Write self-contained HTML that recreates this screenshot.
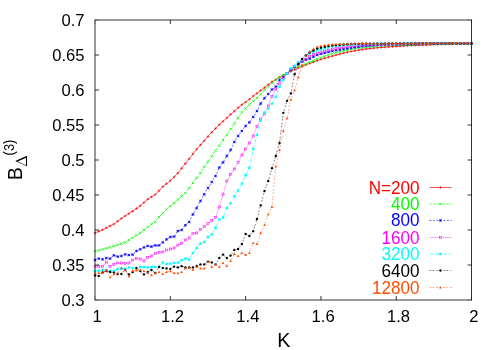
<!DOCTYPE html>
<html><head><meta charset="utf-8"><title>plot</title>
<style>
html,body{margin:0;padding:0;background:#fff;}
svg{display:block;will-change:transform;font-family:"Liberation Sans",sans-serif;}
.t{font-size:17.4px;}
</style></head>
<body>
<svg width="500" height="350" viewBox="0 0 500 350">
<rect width="500" height="350" fill="#fff"/>
<polyline points="95.00,233.00 98.77,231.40 102.53,229.80 106.30,227.92 110.06,226.00 113.83,224.09 117.60,221.30 121.36,218.48 125.13,216.01 128.89,213.61 132.66,211.22 136.43,208.55 140.19,205.83 143.96,202.54 147.72,199.24 151.49,196.82 155.26,194.47 159.02,190.76 162.79,186.73 166.55,183.71 170.32,180.68 174.09,176.91 177.85,173.15 181.62,168.35 185.38,163.52 189.15,158.81 192.92,153.97 196.68,149.23 200.45,145.00 204.21,140.76 207.98,136.52 211.75,132.29 215.51,128.49 219.28,124.75 223.04,121.32 226.81,117.90 230.58,114.48 234.34,111.09 238.11,107.70 241.87,104.71 245.64,102.12 249.41,99.27 253.17,96.12 256.94,93.30 260.70,90.47 264.47,87.64 268.24,84.72 272.00,81.80 275.77,79.60 279.53,77.41 283.30,75.21 287.07,73.27 290.83,71.38 294.60,69.50 298.36,67.85 302.13,66.35 305.90,64.84 309.66,63.39 313.43,62.01 317.19,60.63 320.96,59.32 324.73,58.23 328.49,57.14 332.26,56.09 336.02,55.08 339.79,54.07 343.56,53.06 347.32,52.16 351.09,51.48 354.85,50.80 358.62,50.11 362.39,49.45 366.15,49.01 369.92,48.56 373.68,48.11 377.45,47.67 381.22,47.38 384.98,47.12 388.75,46.86 392.51,46.60 396.28,46.36 400.05,46.12 403.81,45.89 407.58,45.65 411.34,45.45 415.11,45.30 418.88,45.14 422.64,44.99 426.41,44.84 430.17,44.69 433.94,44.54 437.71,44.39 441.47,44.27 445.24,44.19 449.00,44.10 452.77,44.02 456.54,43.94 460.30,43.86 464.07,43.77 467.83,43.69 471.60,43.61" fill="none" stroke="#ff0000" stroke-width="0.65"/>
<g><path d="M93.75 233.00H96.25M95.00 231.75V234.25" stroke="#ff0000" stroke-width="0.7" fill="none"/><path d="M97.52 231.40H100.02M98.77 230.15V232.65" stroke="#ff0000" stroke-width="0.7" fill="none"/><path d="M101.28 229.80H103.78M102.53 228.55V231.05" stroke="#ff0000" stroke-width="0.7" fill="none"/><path d="M105.05 227.92H107.55M106.30 226.67V229.17" stroke="#ff0000" stroke-width="0.7" fill="none"/><path d="M108.81 226.00H111.31M110.06 224.75V227.25" stroke="#ff0000" stroke-width="0.7" fill="none"/><path d="M112.58 224.09H115.08M113.83 222.84V225.34" stroke="#ff0000" stroke-width="0.7" fill="none"/><path d="M116.35 221.30H118.85M117.60 220.05V222.55" stroke="#ff0000" stroke-width="0.7" fill="none"/><path d="M120.11 218.48H122.61M121.36 217.23V219.73" stroke="#ff0000" stroke-width="0.7" fill="none"/><path d="M123.88 216.01H126.38M125.13 214.76V217.26" stroke="#ff0000" stroke-width="0.7" fill="none"/><path d="M127.64 213.61H130.14M128.89 212.36V214.86" stroke="#ff0000" stroke-width="0.7" fill="none"/><path d="M131.41 211.22H133.91M132.66 209.97V212.47" stroke="#ff0000" stroke-width="0.7" fill="none"/><path d="M135.18 208.55H137.68M136.43 207.30V209.80" stroke="#ff0000" stroke-width="0.7" fill="none"/><path d="M138.94 205.83H141.44M140.19 204.58V207.08" stroke="#ff0000" stroke-width="0.7" fill="none"/><path d="M142.71 202.54H145.21M143.96 201.29V203.79" stroke="#ff0000" stroke-width="0.7" fill="none"/><path d="M146.47 199.24H148.97M147.72 197.99V200.49" stroke="#ff0000" stroke-width="0.7" fill="none"/><path d="M150.24 196.82H152.74M151.49 195.57V198.07" stroke="#ff0000" stroke-width="0.7" fill="none"/><path d="M154.01 194.47H156.51M155.26 193.22V195.72" stroke="#ff0000" stroke-width="0.7" fill="none"/><path d="M157.77 190.76H160.27M159.02 189.51V192.01" stroke="#ff0000" stroke-width="0.7" fill="none"/><path d="M161.54 186.73H164.04M162.79 185.48V187.98" stroke="#ff0000" stroke-width="0.7" fill="none"/><path d="M165.30 183.71H167.80M166.55 182.46V184.96" stroke="#ff0000" stroke-width="0.7" fill="none"/><path d="M169.07 180.68H171.57M170.32 179.43V181.93" stroke="#ff0000" stroke-width="0.7" fill="none"/><path d="M172.84 176.91H175.34M174.09 175.66V178.16" stroke="#ff0000" stroke-width="0.7" fill="none"/><path d="M176.60 173.15H179.10M177.85 171.90V174.40" stroke="#ff0000" stroke-width="0.7" fill="none"/><path d="M180.37 168.35H182.87M181.62 167.10V169.60" stroke="#ff0000" stroke-width="0.7" fill="none"/><path d="M184.13 163.52H186.63M185.38 162.27V164.77" stroke="#ff0000" stroke-width="0.7" fill="none"/><path d="M187.90 158.81H190.40M189.15 157.56V160.06" stroke="#ff0000" stroke-width="0.7" fill="none"/><path d="M191.67 153.97H194.17M192.92 152.72V155.22" stroke="#ff0000" stroke-width="0.7" fill="none"/><path d="M195.43 149.23H197.93M196.68 147.98V150.48" stroke="#ff0000" stroke-width="0.7" fill="none"/><path d="M199.20 145.00H201.70M200.45 143.75V146.25" stroke="#ff0000" stroke-width="0.7" fill="none"/><path d="M202.96 140.76H205.46M204.21 139.51V142.01" stroke="#ff0000" stroke-width="0.7" fill="none"/><path d="M206.73 136.52H209.23M207.98 135.27V137.77" stroke="#ff0000" stroke-width="0.7" fill="none"/><path d="M210.50 132.29H213.00M211.75 131.04V133.54" stroke="#ff0000" stroke-width="0.7" fill="none"/><path d="M214.26 128.49H216.76M215.51 127.24V129.74" stroke="#ff0000" stroke-width="0.7" fill="none"/><path d="M218.03 124.75H220.53M219.28 123.50V126.00" stroke="#ff0000" stroke-width="0.7" fill="none"/><path d="M221.79 121.32H224.29M223.04 120.07V122.57" stroke="#ff0000" stroke-width="0.7" fill="none"/><path d="M225.56 117.90H228.06M226.81 116.65V119.15" stroke="#ff0000" stroke-width="0.7" fill="none"/><path d="M229.33 114.48H231.83M230.58 113.23V115.73" stroke="#ff0000" stroke-width="0.7" fill="none"/><path d="M233.09 111.09H235.59M234.34 109.84V112.34" stroke="#ff0000" stroke-width="0.7" fill="none"/><path d="M236.86 107.70H239.36M238.11 106.45V108.95" stroke="#ff0000" stroke-width="0.7" fill="none"/><path d="M240.62 104.71H243.12M241.87 103.46V105.96" stroke="#ff0000" stroke-width="0.7" fill="none"/><path d="M244.39 102.12H246.89M245.64 100.87V103.37" stroke="#ff0000" stroke-width="0.7" fill="none"/><path d="M248.16 99.27H250.66M249.41 98.02V100.52" stroke="#ff0000" stroke-width="0.7" fill="none"/><path d="M251.92 96.12H254.42M253.17 94.87V97.37" stroke="#ff0000" stroke-width="0.7" fill="none"/><path d="M255.69 93.30H258.19M256.94 92.05V94.55" stroke="#ff0000" stroke-width="0.7" fill="none"/><path d="M259.45 90.47H261.95M260.70 89.22V91.72" stroke="#ff0000" stroke-width="0.7" fill="none"/><path d="M263.22 87.64H265.72M264.47 86.39V88.89" stroke="#ff0000" stroke-width="0.7" fill="none"/><path d="M266.99 84.72H269.49M268.24 83.47V85.97" stroke="#ff0000" stroke-width="0.7" fill="none"/><path d="M270.75 81.80H273.25M272.00 80.55V83.05" stroke="#ff0000" stroke-width="0.7" fill="none"/><path d="M274.52 79.60H277.02M275.77 78.35V80.85" stroke="#ff0000" stroke-width="0.7" fill="none"/><path d="M278.28 77.41H280.78M279.53 76.16V78.66" stroke="#ff0000" stroke-width="0.7" fill="none"/><path d="M282.05 75.21H284.55M283.30 73.96V76.46" stroke="#ff0000" stroke-width="0.7" fill="none"/><path d="M285.82 73.27H288.32M287.07 72.02V74.52" stroke="#ff0000" stroke-width="0.7" fill="none"/><path d="M289.58 71.38H292.08M290.83 70.13V72.63" stroke="#ff0000" stroke-width="0.7" fill="none"/><path d="M293.35 69.50H295.85M294.60 68.25V70.75" stroke="#ff0000" stroke-width="0.7" fill="none"/><path d="M297.11 67.85H299.61M298.36 66.60V69.10" stroke="#ff0000" stroke-width="0.7" fill="none"/><path d="M300.88 66.35H303.38M302.13 65.10V67.60" stroke="#ff0000" stroke-width="0.7" fill="none"/><path d="M304.65 64.84H307.15M305.90 63.59V66.09" stroke="#ff0000" stroke-width="0.7" fill="none"/><path d="M308.41 63.39H310.91M309.66 62.14V64.64" stroke="#ff0000" stroke-width="0.7" fill="none"/><path d="M312.18 62.01H314.68M313.43 60.76V63.26" stroke="#ff0000" stroke-width="0.7" fill="none"/><path d="M315.94 60.63H318.44M317.19 59.38V61.88" stroke="#ff0000" stroke-width="0.7" fill="none"/><path d="M319.71 59.32H322.21M320.96 58.07V60.57" stroke="#ff0000" stroke-width="0.7" fill="none"/><path d="M323.48 58.23H325.98M324.73 56.98V59.48" stroke="#ff0000" stroke-width="0.7" fill="none"/><path d="M327.24 57.14H329.74M328.49 55.89V58.39" stroke="#ff0000" stroke-width="0.7" fill="none"/><path d="M331.01 56.09H333.51M332.26 54.84V57.34" stroke="#ff0000" stroke-width="0.7" fill="none"/><path d="M334.77 55.08H337.27M336.02 53.83V56.33" stroke="#ff0000" stroke-width="0.7" fill="none"/><path d="M338.54 54.07H341.04M339.79 52.82V55.32" stroke="#ff0000" stroke-width="0.7" fill="none"/><path d="M342.31 53.06H344.81M343.56 51.81V54.31" stroke="#ff0000" stroke-width="0.7" fill="none"/><path d="M346.07 52.16H348.57M347.32 50.91V53.41" stroke="#ff0000" stroke-width="0.7" fill="none"/><path d="M349.84 51.48H352.34M351.09 50.23V52.73" stroke="#ff0000" stroke-width="0.7" fill="none"/><path d="M353.60 50.80H356.10M354.85 49.55V52.05" stroke="#ff0000" stroke-width="0.7" fill="none"/><path d="M357.37 50.11H359.87M358.62 48.86V51.36" stroke="#ff0000" stroke-width="0.7" fill="none"/><path d="M361.14 49.45H363.64M362.39 48.20V50.70" stroke="#ff0000" stroke-width="0.7" fill="none"/><path d="M364.90 49.01H367.40M366.15 47.76V50.26" stroke="#ff0000" stroke-width="0.7" fill="none"/><path d="M368.67 48.56H371.17M369.92 47.31V49.81" stroke="#ff0000" stroke-width="0.7" fill="none"/><path d="M372.43 48.11H374.93M373.68 46.86V49.36" stroke="#ff0000" stroke-width="0.7" fill="none"/><path d="M376.20 47.67H378.70M377.45 46.42V48.92" stroke="#ff0000" stroke-width="0.7" fill="none"/><path d="M379.97 47.38H382.47M381.22 46.13V48.63" stroke="#ff0000" stroke-width="0.7" fill="none"/><path d="M383.73 47.12H386.23M384.98 45.87V48.37" stroke="#ff0000" stroke-width="0.7" fill="none"/><path d="M387.50 46.86H390.00M388.75 45.61V48.11" stroke="#ff0000" stroke-width="0.7" fill="none"/><path d="M391.26 46.60H393.76M392.51 45.35V47.85" stroke="#ff0000" stroke-width="0.7" fill="none"/><path d="M395.03 46.36H397.53M396.28 45.11V47.61" stroke="#ff0000" stroke-width="0.7" fill="none"/><path d="M398.80 46.12H401.30M400.05 44.87V47.37" stroke="#ff0000" stroke-width="0.7" fill="none"/><path d="M402.56 45.89H405.06M403.81 44.64V47.14" stroke="#ff0000" stroke-width="0.7" fill="none"/><path d="M406.33 45.65H408.83M407.58 44.40V46.90" stroke="#ff0000" stroke-width="0.7" fill="none"/><path d="M410.09 45.45H412.59M411.34 44.20V46.70" stroke="#ff0000" stroke-width="0.7" fill="none"/><path d="M413.86 45.30H416.36M415.11 44.05V46.55" stroke="#ff0000" stroke-width="0.7" fill="none"/><path d="M417.63 45.14H420.13M418.88 43.89V46.39" stroke="#ff0000" stroke-width="0.7" fill="none"/><path d="M421.39 44.99H423.89M422.64 43.74V46.24" stroke="#ff0000" stroke-width="0.7" fill="none"/><path d="M425.16 44.84H427.66M426.41 43.59V46.09" stroke="#ff0000" stroke-width="0.7" fill="none"/><path d="M428.92 44.69H431.42M430.17 43.44V45.94" stroke="#ff0000" stroke-width="0.7" fill="none"/><path d="M432.69 44.54H435.19M433.94 43.29V45.79" stroke="#ff0000" stroke-width="0.7" fill="none"/><path d="M436.46 44.39H438.96M437.71 43.14V45.64" stroke="#ff0000" stroke-width="0.7" fill="none"/><path d="M440.22 44.27H442.72M441.47 43.02V45.52" stroke="#ff0000" stroke-width="0.7" fill="none"/><path d="M443.99 44.19H446.49M445.24 42.94V45.44" stroke="#ff0000" stroke-width="0.7" fill="none"/><path d="M447.75 44.10H450.25M449.00 42.85V45.35" stroke="#ff0000" stroke-width="0.7" fill="none"/><path d="M451.52 44.02H454.02M452.77 42.77V45.27" stroke="#ff0000" stroke-width="0.7" fill="none"/><path d="M455.29 43.94H457.79M456.54 42.69V45.19" stroke="#ff0000" stroke-width="0.7" fill="none"/><path d="M459.05 43.86H461.55M460.30 42.61V45.11" stroke="#ff0000" stroke-width="0.7" fill="none"/><path d="M462.82 43.77H465.32M464.07 42.52V45.02" stroke="#ff0000" stroke-width="0.7" fill="none"/><path d="M466.58 43.69H469.08M467.83 42.44V44.94" stroke="#ff0000" stroke-width="0.7" fill="none"/><path d="M470.35 43.61H472.85M471.60 42.36V44.86" stroke="#ff0000" stroke-width="0.7" fill="none"/></g>
<polyline points="95.00,251.20 98.77,250.30 102.53,249.39 106.30,248.39 110.06,247.38 113.83,246.19 117.60,245.00 121.36,243.70 125.13,242.38 128.89,240.00 132.66,237.63 136.43,235.31 140.19,233.00 143.96,230.03 147.72,227.17 151.49,224.31 155.26,221.73 159.02,216.98 162.79,213.21 166.55,209.45 170.32,206.15 174.09,202.92 177.85,199.63 181.62,196.33 185.38,193.01 189.15,188.07 192.92,182.98 196.68,178.02 200.45,172.92 204.21,166.98 207.98,161.63 211.75,156.33 215.51,150.58 219.28,145.63 223.04,139.94 226.81,134.98 230.58,129.04 234.34,123.54 238.11,117.99 241.87,112.44 245.64,108.50 249.41,104.63 253.17,101.23 256.94,97.82 260.70,94.36 264.47,89.98 268.24,86.59 272.00,83.20 275.77,79.81 279.53,77.48 283.30,75.22 287.07,72.96 290.83,70.70 294.60,68.44 298.36,66.65 302.13,65.15 305.90,63.64 309.66,62.14 313.43,60.63 317.19,59.12 320.96,57.64 324.73,56.25 328.49,54.86 332.26,53.69 336.02,52.68 339.79,51.67 343.56,50.66 347.32,49.80 351.09,49.24 354.85,48.67 358.62,48.11 362.39,47.56 366.15,47.18 369.92,46.81 373.68,46.43 377.45,46.05 381.22,45.84 384.98,45.65 388.75,45.46 392.51,45.27 396.28,45.13 400.05,45.01 403.81,44.89 407.58,44.78 411.34,44.67 415.11,44.58 418.88,44.49 422.64,44.41 426.41,44.32 430.17,44.23 433.94,44.14 437.71,44.05 441.47,43.98 445.24,43.92 449.00,43.86 452.77,43.80 456.54,43.74 460.30,43.68 464.07,43.62 467.83,43.57 471.60,43.51" fill="none" stroke="#00ff00" stroke-width="0.65" stroke-dasharray="2.7 1.45"/>
<g><path d="M93.75 249.95L96.25 252.45M93.75 252.45L96.25 249.95" stroke="#00ff00" stroke-width="0.7" fill="none"/><path d="M97.52 249.05L100.02 251.55M97.52 251.55L100.02 249.05" stroke="#00ff00" stroke-width="0.7" fill="none"/><path d="M101.28 248.14L103.78 250.64M101.28 250.64L103.78 248.14" stroke="#00ff00" stroke-width="0.7" fill="none"/><path d="M105.05 247.14L107.55 249.64M105.05 249.64L107.55 247.14" stroke="#00ff00" stroke-width="0.7" fill="none"/><path d="M108.81 246.13L111.31 248.63M108.81 248.63L111.31 246.13" stroke="#00ff00" stroke-width="0.7" fill="none"/><path d="M112.58 244.94L115.08 247.44M112.58 247.44L115.08 244.94" stroke="#00ff00" stroke-width="0.7" fill="none"/><path d="M116.35 243.75L118.85 246.25M116.35 246.25L118.85 243.75" stroke="#00ff00" stroke-width="0.7" fill="none"/><path d="M120.11 242.45L122.61 244.95M120.11 244.95L122.61 242.45" stroke="#00ff00" stroke-width="0.7" fill="none"/><path d="M123.88 241.13L126.38 243.63M123.88 243.63L126.38 241.13" stroke="#00ff00" stroke-width="0.7" fill="none"/><path d="M127.64 238.75L130.14 241.25M127.64 241.25L130.14 238.75" stroke="#00ff00" stroke-width="0.7" fill="none"/><path d="M131.41 236.38L133.91 238.88M131.41 238.88L133.91 236.38" stroke="#00ff00" stroke-width="0.7" fill="none"/><path d="M135.18 234.06L137.68 236.56M135.18 236.56L137.68 234.06" stroke="#00ff00" stroke-width="0.7" fill="none"/><path d="M138.94 231.75L141.44 234.25M138.94 234.25L141.44 231.75" stroke="#00ff00" stroke-width="0.7" fill="none"/><path d="M142.71 228.78L145.21 231.28M142.71 231.28L145.21 228.78" stroke="#00ff00" stroke-width="0.7" fill="none"/><path d="M146.47 225.92L148.97 228.42M146.47 228.42L148.97 225.92" stroke="#00ff00" stroke-width="0.7" fill="none"/><path d="M150.24 223.06L152.74 225.56M150.24 225.56L152.74 223.06" stroke="#00ff00" stroke-width="0.7" fill="none"/><path d="M154.01 220.48L156.51 222.98M154.01 222.98L156.51 220.48" stroke="#00ff00" stroke-width="0.7" fill="none"/><path d="M157.77 215.73L160.27 218.23M157.77 218.23L160.27 215.73" stroke="#00ff00" stroke-width="0.7" fill="none"/><path d="M161.54 211.96L164.04 214.46M161.54 214.46L164.04 211.96" stroke="#00ff00" stroke-width="0.7" fill="none"/><path d="M165.30 208.20L167.80 210.70M165.30 210.70L167.80 208.20" stroke="#00ff00" stroke-width="0.7" fill="none"/><path d="M169.07 204.90L171.57 207.40M169.07 207.40L171.57 204.90" stroke="#00ff00" stroke-width="0.7" fill="none"/><path d="M172.84 201.67L175.34 204.17M172.84 204.17L175.34 201.67" stroke="#00ff00" stroke-width="0.7" fill="none"/><path d="M176.60 198.38L179.10 200.88M176.60 200.88L179.10 198.38" stroke="#00ff00" stroke-width="0.7" fill="none"/><path d="M180.37 195.08L182.87 197.58M180.37 197.58L182.87 195.08" stroke="#00ff00" stroke-width="0.7" fill="none"/><path d="M184.13 191.76L186.63 194.26M184.13 194.26L186.63 191.76" stroke="#00ff00" stroke-width="0.7" fill="none"/><path d="M187.90 186.82L190.40 189.32M187.90 189.32L190.40 186.82" stroke="#00ff00" stroke-width="0.7" fill="none"/><path d="M191.67 181.73L194.17 184.23M191.67 184.23L194.17 181.73" stroke="#00ff00" stroke-width="0.7" fill="none"/><path d="M195.43 176.77L197.93 179.27M195.43 179.27L197.93 176.77" stroke="#00ff00" stroke-width="0.7" fill="none"/><path d="M199.20 171.67L201.70 174.17M199.20 174.17L201.70 171.67" stroke="#00ff00" stroke-width="0.7" fill="none"/><path d="M202.96 165.73L205.46 168.23M202.96 168.23L205.46 165.73" stroke="#00ff00" stroke-width="0.7" fill="none"/><path d="M206.73 160.38L209.23 162.88M206.73 162.88L209.23 160.38" stroke="#00ff00" stroke-width="0.7" fill="none"/><path d="M210.50 155.08L213.00 157.58M210.50 157.58L213.00 155.08" stroke="#00ff00" stroke-width="0.7" fill="none"/><path d="M214.26 149.33L216.76 151.83M214.26 151.83L216.76 149.33" stroke="#00ff00" stroke-width="0.7" fill="none"/><path d="M218.03 144.38L220.53 146.88M218.03 146.88L220.53 144.38" stroke="#00ff00" stroke-width="0.7" fill="none"/><path d="M221.79 138.69L224.29 141.19M221.79 141.19L224.29 138.69" stroke="#00ff00" stroke-width="0.7" fill="none"/><path d="M225.56 133.73L228.06 136.23M225.56 136.23L228.06 133.73" stroke="#00ff00" stroke-width="0.7" fill="none"/><path d="M229.33 127.79L231.83 130.29M229.33 130.29L231.83 127.79" stroke="#00ff00" stroke-width="0.7" fill="none"/><path d="M233.09 122.29L235.59 124.79M233.09 124.79L235.59 122.29" stroke="#00ff00" stroke-width="0.7" fill="none"/><path d="M236.86 116.74L239.36 119.24M236.86 119.24L239.36 116.74" stroke="#00ff00" stroke-width="0.7" fill="none"/><path d="M240.62 111.19L243.12 113.69M240.62 113.69L243.12 111.19" stroke="#00ff00" stroke-width="0.7" fill="none"/><path d="M244.39 107.25L246.89 109.75M244.39 109.75L246.89 107.25" stroke="#00ff00" stroke-width="0.7" fill="none"/><path d="M248.16 103.38L250.66 105.88M248.16 105.88L250.66 103.38" stroke="#00ff00" stroke-width="0.7" fill="none"/><path d="M251.92 99.98L254.42 102.48M251.92 102.48L254.42 99.98" stroke="#00ff00" stroke-width="0.7" fill="none"/><path d="M255.69 96.57L258.19 99.07M255.69 99.07L258.19 96.57" stroke="#00ff00" stroke-width="0.7" fill="none"/><path d="M259.45 93.11L261.95 95.61M259.45 95.61L261.95 93.11" stroke="#00ff00" stroke-width="0.7" fill="none"/><path d="M263.22 88.73L265.72 91.23M263.22 91.23L265.72 88.73" stroke="#00ff00" stroke-width="0.7" fill="none"/><path d="M266.99 85.34L269.49 87.84M266.99 87.84L269.49 85.34" stroke="#00ff00" stroke-width="0.7" fill="none"/><path d="M270.75 81.95L273.25 84.45M270.75 84.45L273.25 81.95" stroke="#00ff00" stroke-width="0.7" fill="none"/><path d="M274.52 78.56L277.02 81.06M274.52 81.06L277.02 78.56" stroke="#00ff00" stroke-width="0.7" fill="none"/><path d="M278.28 76.23L280.78 78.73M278.28 78.73L280.78 76.23" stroke="#00ff00" stroke-width="0.7" fill="none"/><path d="M282.05 73.97L284.55 76.47M282.05 76.47L284.55 73.97" stroke="#00ff00" stroke-width="0.7" fill="none"/><path d="M285.82 71.71L288.32 74.21M285.82 74.21L288.32 71.71" stroke="#00ff00" stroke-width="0.7" fill="none"/><path d="M289.58 69.45L292.08 71.95M289.58 71.95L292.08 69.45" stroke="#00ff00" stroke-width="0.7" fill="none"/><path d="M293.35 67.19L295.85 69.69M293.35 69.69L295.85 67.19" stroke="#00ff00" stroke-width="0.7" fill="none"/><path d="M297.11 65.40L299.61 67.90M297.11 67.90L299.61 65.40" stroke="#00ff00" stroke-width="0.7" fill="none"/><path d="M300.88 63.90L303.38 66.40M300.88 66.40L303.38 63.90" stroke="#00ff00" stroke-width="0.7" fill="none"/><path d="M304.65 62.39L307.15 64.89M304.65 64.89L307.15 62.39" stroke="#00ff00" stroke-width="0.7" fill="none"/><path d="M308.41 60.89L310.91 63.39M308.41 63.39L310.91 60.89" stroke="#00ff00" stroke-width="0.7" fill="none"/><path d="M312.18 59.38L314.68 61.88M312.18 61.88L314.68 59.38" stroke="#00ff00" stroke-width="0.7" fill="none"/><path d="M315.94 57.87L318.44 60.37M315.94 60.37L318.44 57.87" stroke="#00ff00" stroke-width="0.7" fill="none"/><path d="M319.71 56.39L322.21 58.89M319.71 58.89L322.21 56.39" stroke="#00ff00" stroke-width="0.7" fill="none"/><path d="M323.48 55.00L325.98 57.50M323.48 57.50L325.98 55.00" stroke="#00ff00" stroke-width="0.7" fill="none"/><path d="M327.24 53.61L329.74 56.11M327.24 56.11L329.74 53.61" stroke="#00ff00" stroke-width="0.7" fill="none"/><path d="M331.01 52.44L333.51 54.94M331.01 54.94L333.51 52.44" stroke="#00ff00" stroke-width="0.7" fill="none"/><path d="M334.77 51.43L337.27 53.93M334.77 53.93L337.27 51.43" stroke="#00ff00" stroke-width="0.7" fill="none"/><path d="M338.54 50.42L341.04 52.92M338.54 52.92L341.04 50.42" stroke="#00ff00" stroke-width="0.7" fill="none"/><path d="M342.31 49.41L344.81 51.91M342.31 51.91L344.81 49.41" stroke="#00ff00" stroke-width="0.7" fill="none"/><path d="M346.07 48.55L348.57 51.05M346.07 51.05L348.57 48.55" stroke="#00ff00" stroke-width="0.7" fill="none"/><path d="M349.84 47.99L352.34 50.49M349.84 50.49L352.34 47.99" stroke="#00ff00" stroke-width="0.7" fill="none"/><path d="M353.60 47.42L356.10 49.92M353.60 49.92L356.10 47.42" stroke="#00ff00" stroke-width="0.7" fill="none"/><path d="M357.37 46.86L359.87 49.36M357.37 49.36L359.87 46.86" stroke="#00ff00" stroke-width="0.7" fill="none"/><path d="M361.14 46.31L363.64 48.81M361.14 48.81L363.64 46.31" stroke="#00ff00" stroke-width="0.7" fill="none"/><path d="M364.90 45.93L367.40 48.43M364.90 48.43L367.40 45.93" stroke="#00ff00" stroke-width="0.7" fill="none"/><path d="M368.67 45.56L371.17 48.06M368.67 48.06L371.17 45.56" stroke="#00ff00" stroke-width="0.7" fill="none"/><path d="M372.43 45.18L374.93 47.68M372.43 47.68L374.93 45.18" stroke="#00ff00" stroke-width="0.7" fill="none"/><path d="M376.20 44.80L378.70 47.30M376.20 47.30L378.70 44.80" stroke="#00ff00" stroke-width="0.7" fill="none"/><path d="M379.97 44.59L382.47 47.09M379.97 47.09L382.47 44.59" stroke="#00ff00" stroke-width="0.7" fill="none"/><path d="M383.73 44.40L386.23 46.90M383.73 46.90L386.23 44.40" stroke="#00ff00" stroke-width="0.7" fill="none"/><path d="M387.50 44.21L390.00 46.71M387.50 46.71L390.00 44.21" stroke="#00ff00" stroke-width="0.7" fill="none"/><path d="M391.26 44.02L393.76 46.52M391.26 46.52L393.76 44.02" stroke="#00ff00" stroke-width="0.7" fill="none"/><path d="M395.03 43.88L397.53 46.38M395.03 46.38L397.53 43.88" stroke="#00ff00" stroke-width="0.7" fill="none"/><path d="M398.80 43.76L401.30 46.26M398.80 46.26L401.30 43.76" stroke="#00ff00" stroke-width="0.7" fill="none"/><path d="M402.56 43.64L405.06 46.14M402.56 46.14L405.06 43.64" stroke="#00ff00" stroke-width="0.7" fill="none"/><path d="M406.33 43.53L408.83 46.03M406.33 46.03L408.83 43.53" stroke="#00ff00" stroke-width="0.7" fill="none"/><path d="M410.09 43.42L412.59 45.92M410.09 45.92L412.59 43.42" stroke="#00ff00" stroke-width="0.7" fill="none"/><path d="M413.86 43.33L416.36 45.83M413.86 45.83L416.36 43.33" stroke="#00ff00" stroke-width="0.7" fill="none"/><path d="M417.63 43.24L420.13 45.74M417.63 45.74L420.13 43.24" stroke="#00ff00" stroke-width="0.7" fill="none"/><path d="M421.39 43.16L423.89 45.66M421.39 45.66L423.89 43.16" stroke="#00ff00" stroke-width="0.7" fill="none"/><path d="M425.16 43.07L427.66 45.57M425.16 45.57L427.66 43.07" stroke="#00ff00" stroke-width="0.7" fill="none"/><path d="M428.92 42.98L431.42 45.48M428.92 45.48L431.42 42.98" stroke="#00ff00" stroke-width="0.7" fill="none"/><path d="M432.69 42.89L435.19 45.39M432.69 45.39L435.19 42.89" stroke="#00ff00" stroke-width="0.7" fill="none"/><path d="M436.46 42.80L438.96 45.30M436.46 45.30L438.96 42.80" stroke="#00ff00" stroke-width="0.7" fill="none"/><path d="M440.22 42.73L442.72 45.23M440.22 45.23L442.72 42.73" stroke="#00ff00" stroke-width="0.7" fill="none"/><path d="M443.99 42.67L446.49 45.17M443.99 45.17L446.49 42.67" stroke="#00ff00" stroke-width="0.7" fill="none"/><path d="M447.75 42.61L450.25 45.11M447.75 45.11L450.25 42.61" stroke="#00ff00" stroke-width="0.7" fill="none"/><path d="M451.52 42.55L454.02 45.05M451.52 45.05L454.02 42.55" stroke="#00ff00" stroke-width="0.7" fill="none"/><path d="M455.29 42.49L457.79 44.99M455.29 44.99L457.79 42.49" stroke="#00ff00" stroke-width="0.7" fill="none"/><path d="M459.05 42.43L461.55 44.93M459.05 44.93L461.55 42.43" stroke="#00ff00" stroke-width="0.7" fill="none"/><path d="M462.82 42.37L465.32 44.87M462.82 44.87L465.32 42.37" stroke="#00ff00" stroke-width="0.7" fill="none"/><path d="M466.58 42.32L469.08 44.82M466.58 44.82L469.08 42.32" stroke="#00ff00" stroke-width="0.7" fill="none"/><path d="M470.35 42.26L472.85 44.76M470.35 44.76L472.85 42.26" stroke="#00ff00" stroke-width="0.7" fill="none"/></g>
<polyline points="95.00,260.00 98.77,258.60 102.53,259.40 106.30,258.00 110.06,258.60 113.83,255.40 117.60,256.60 121.36,256.00 125.13,254.40 128.89,255.00 132.66,254.60 136.43,251.00 140.19,249.40 143.96,247.40 147.72,246.00 151.49,246.60 155.26,245.40 159.02,245.40 162.79,242.40 166.55,239.40 170.32,237.00 174.09,236.60 177.85,231.00 181.62,230.00 185.38,225.20 189.15,222.00 192.92,214.40 196.68,208.00 200.45,201.00 204.21,194.40 207.98,188.00 211.75,182.00 215.51,176.00 219.28,167.60 223.04,162.40 226.81,156.00 230.58,150.00 234.34,142.00 238.11,136.00 241.87,131.00 245.64,126.00 249.41,122.40 253.17,117.00 256.94,111.00 260.70,103.60 264.47,98.20 268.24,94.00 272.00,89.50 275.77,86.60 279.53,80.20 283.30,77.20 287.07,73.40 290.83,70.00 294.60,67.00 298.36,64.00 302.13,61.60 305.90,59.80 309.66,58.60 313.43,56.79 317.19,54.99 320.96,53.86 324.73,52.92 328.49,51.98 332.26,51.04 336.02,50.27 339.79,49.66 343.56,49.05 347.32,48.44 351.09,47.84 354.85,47.27 358.62,46.71 362.39,46.17 366.15,45.86 369.92,45.56 373.68,45.25 377.45,44.94 381.22,44.80 384.98,44.68 388.75,44.56 392.51,44.45 396.28,44.36 400.05,44.29 403.81,44.22 407.58,44.15 411.34,44.08 415.11,44.03 418.88,43.98 422.64,43.93 426.41,43.88 430.17,43.83 433.94,43.78 437.71,43.73 441.47,43.69 445.24,43.67 449.00,43.64 452.77,43.62 456.54,43.60 460.30,43.57 464.07,43.55 467.83,43.53 471.60,43.50" fill="none" stroke="#0000ff" stroke-width="0.65" stroke-dasharray="1.7 1.8"/>
<g><path d="M93.75 260.00H96.25M95.00 258.75V261.25M93.75 258.75L96.25 261.25M93.75 261.25L96.25 258.75" stroke="#0000ff" stroke-width="0.7" fill="none"/><path d="M97.52 258.60H100.02M98.77 257.35V259.85M97.52 257.35L100.02 259.85M97.52 259.85L100.02 257.35" stroke="#0000ff" stroke-width="0.7" fill="none"/><path d="M101.28 259.40H103.78M102.53 258.15V260.65M101.28 258.15L103.78 260.65M101.28 260.65L103.78 258.15" stroke="#0000ff" stroke-width="0.7" fill="none"/><path d="M105.05 258.00H107.55M106.30 256.75V259.25M105.05 256.75L107.55 259.25M105.05 259.25L107.55 256.75" stroke="#0000ff" stroke-width="0.7" fill="none"/><path d="M108.81 258.60H111.31M110.06 257.35V259.85M108.81 257.35L111.31 259.85M108.81 259.85L111.31 257.35" stroke="#0000ff" stroke-width="0.7" fill="none"/><path d="M112.58 255.40H115.08M113.83 254.15V256.65M112.58 254.15L115.08 256.65M112.58 256.65L115.08 254.15" stroke="#0000ff" stroke-width="0.7" fill="none"/><path d="M116.35 256.60H118.85M117.60 255.35V257.85M116.35 255.35L118.85 257.85M116.35 257.85L118.85 255.35" stroke="#0000ff" stroke-width="0.7" fill="none"/><path d="M120.11 256.00H122.61M121.36 254.75V257.25M120.11 254.75L122.61 257.25M120.11 257.25L122.61 254.75" stroke="#0000ff" stroke-width="0.7" fill="none"/><path d="M123.88 254.40H126.38M125.13 253.15V255.65M123.88 253.15L126.38 255.65M123.88 255.65L126.38 253.15" stroke="#0000ff" stroke-width="0.7" fill="none"/><path d="M127.64 255.00H130.14M128.89 253.75V256.25M127.64 253.75L130.14 256.25M127.64 256.25L130.14 253.75" stroke="#0000ff" stroke-width="0.7" fill="none"/><path d="M131.41 254.60H133.91M132.66 253.35V255.85M131.41 253.35L133.91 255.85M131.41 255.85L133.91 253.35" stroke="#0000ff" stroke-width="0.7" fill="none"/><path d="M135.18 251.00H137.68M136.43 249.75V252.25M135.18 249.75L137.68 252.25M135.18 252.25L137.68 249.75" stroke="#0000ff" stroke-width="0.7" fill="none"/><path d="M138.94 249.40H141.44M140.19 248.15V250.65M138.94 248.15L141.44 250.65M138.94 250.65L141.44 248.15" stroke="#0000ff" stroke-width="0.7" fill="none"/><path d="M142.71 247.40H145.21M143.96 246.15V248.65M142.71 246.15L145.21 248.65M142.71 248.65L145.21 246.15" stroke="#0000ff" stroke-width="0.7" fill="none"/><path d="M146.47 246.00H148.97M147.72 244.75V247.25M146.47 244.75L148.97 247.25M146.47 247.25L148.97 244.75" stroke="#0000ff" stroke-width="0.7" fill="none"/><path d="M150.24 246.60H152.74M151.49 245.35V247.85M150.24 245.35L152.74 247.85M150.24 247.85L152.74 245.35" stroke="#0000ff" stroke-width="0.7" fill="none"/><path d="M154.01 245.40H156.51M155.26 244.15V246.65M154.01 244.15L156.51 246.65M154.01 246.65L156.51 244.15" stroke="#0000ff" stroke-width="0.7" fill="none"/><path d="M157.77 245.40H160.27M159.02 244.15V246.65M157.77 244.15L160.27 246.65M157.77 246.65L160.27 244.15" stroke="#0000ff" stroke-width="0.7" fill="none"/><path d="M161.54 242.40H164.04M162.79 241.15V243.65M161.54 241.15L164.04 243.65M161.54 243.65L164.04 241.15" stroke="#0000ff" stroke-width="0.7" fill="none"/><path d="M165.30 239.40H167.80M166.55 238.15V240.65M165.30 238.15L167.80 240.65M165.30 240.65L167.80 238.15" stroke="#0000ff" stroke-width="0.7" fill="none"/><path d="M169.07 237.00H171.57M170.32 235.75V238.25M169.07 235.75L171.57 238.25M169.07 238.25L171.57 235.75" stroke="#0000ff" stroke-width="0.7" fill="none"/><path d="M172.84 236.60H175.34M174.09 235.35V237.85M172.84 235.35L175.34 237.85M172.84 237.85L175.34 235.35" stroke="#0000ff" stroke-width="0.7" fill="none"/><path d="M176.60 231.00H179.10M177.85 229.75V232.25M176.60 229.75L179.10 232.25M176.60 232.25L179.10 229.75" stroke="#0000ff" stroke-width="0.7" fill="none"/><path d="M180.37 230.00H182.87M181.62 228.75V231.25M180.37 228.75L182.87 231.25M180.37 231.25L182.87 228.75" stroke="#0000ff" stroke-width="0.7" fill="none"/><path d="M184.13 225.20H186.63M185.38 223.95V226.45M184.13 223.95L186.63 226.45M184.13 226.45L186.63 223.95" stroke="#0000ff" stroke-width="0.7" fill="none"/><path d="M187.90 222.00H190.40M189.15 220.75V223.25M187.90 220.75L190.40 223.25M187.90 223.25L190.40 220.75" stroke="#0000ff" stroke-width="0.7" fill="none"/><path d="M191.67 214.40H194.17M192.92 213.15V215.65M191.67 213.15L194.17 215.65M191.67 215.65L194.17 213.15" stroke="#0000ff" stroke-width="0.7" fill="none"/><path d="M195.43 208.00H197.93M196.68 206.75V209.25M195.43 206.75L197.93 209.25M195.43 209.25L197.93 206.75" stroke="#0000ff" stroke-width="0.7" fill="none"/><path d="M199.20 201.00H201.70M200.45 199.75V202.25M199.20 199.75L201.70 202.25M199.20 202.25L201.70 199.75" stroke="#0000ff" stroke-width="0.7" fill="none"/><path d="M202.96 194.40H205.46M204.21 193.15V195.65M202.96 193.15L205.46 195.65M202.96 195.65L205.46 193.15" stroke="#0000ff" stroke-width="0.7" fill="none"/><path d="M206.73 188.00H209.23M207.98 186.75V189.25M206.73 186.75L209.23 189.25M206.73 189.25L209.23 186.75" stroke="#0000ff" stroke-width="0.7" fill="none"/><path d="M210.50 182.00H213.00M211.75 180.75V183.25M210.50 180.75L213.00 183.25M210.50 183.25L213.00 180.75" stroke="#0000ff" stroke-width="0.7" fill="none"/><path d="M214.26 176.00H216.76M215.51 174.75V177.25M214.26 174.75L216.76 177.25M214.26 177.25L216.76 174.75" stroke="#0000ff" stroke-width="0.7" fill="none"/><path d="M218.03 167.60H220.53M219.28 166.35V168.85M218.03 166.35L220.53 168.85M218.03 168.85L220.53 166.35" stroke="#0000ff" stroke-width="0.7" fill="none"/><path d="M221.79 162.40H224.29M223.04 161.15V163.65M221.79 161.15L224.29 163.65M221.79 163.65L224.29 161.15" stroke="#0000ff" stroke-width="0.7" fill="none"/><path d="M225.56 156.00H228.06M226.81 154.75V157.25M225.56 154.75L228.06 157.25M225.56 157.25L228.06 154.75" stroke="#0000ff" stroke-width="0.7" fill="none"/><path d="M229.33 150.00H231.83M230.58 148.75V151.25M229.33 148.75L231.83 151.25M229.33 151.25L231.83 148.75" stroke="#0000ff" stroke-width="0.7" fill="none"/><path d="M233.09 142.00H235.59M234.34 140.75V143.25M233.09 140.75L235.59 143.25M233.09 143.25L235.59 140.75" stroke="#0000ff" stroke-width="0.7" fill="none"/><path d="M236.86 136.00H239.36M238.11 134.75V137.25M236.86 134.75L239.36 137.25M236.86 137.25L239.36 134.75" stroke="#0000ff" stroke-width="0.7" fill="none"/><path d="M240.62 131.00H243.12M241.87 129.75V132.25M240.62 129.75L243.12 132.25M240.62 132.25L243.12 129.75" stroke="#0000ff" stroke-width="0.7" fill="none"/><path d="M244.39 126.00H246.89M245.64 124.75V127.25M244.39 124.75L246.89 127.25M244.39 127.25L246.89 124.75" stroke="#0000ff" stroke-width="0.7" fill="none"/><path d="M248.16 122.40H250.66M249.41 121.15V123.65M248.16 121.15L250.66 123.65M248.16 123.65L250.66 121.15" stroke="#0000ff" stroke-width="0.7" fill="none"/><path d="M251.92 117.00H254.42M253.17 115.75V118.25M251.92 115.75L254.42 118.25M251.92 118.25L254.42 115.75" stroke="#0000ff" stroke-width="0.7" fill="none"/><path d="M255.69 111.00H258.19M256.94 109.75V112.25M255.69 109.75L258.19 112.25M255.69 112.25L258.19 109.75" stroke="#0000ff" stroke-width="0.7" fill="none"/><path d="M259.45 103.60H261.95M260.70 102.35V104.85M259.45 102.35L261.95 104.85M259.45 104.85L261.95 102.35" stroke="#0000ff" stroke-width="0.7" fill="none"/><path d="M263.22 98.20H265.72M264.47 96.95V99.45M263.22 96.95L265.72 99.45M263.22 99.45L265.72 96.95" stroke="#0000ff" stroke-width="0.7" fill="none"/><path d="M266.99 94.00H269.49M268.24 92.75V95.25M266.99 92.75L269.49 95.25M266.99 95.25L269.49 92.75" stroke="#0000ff" stroke-width="0.7" fill="none"/><path d="M270.75 89.50H273.25M272.00 88.25V90.75M270.75 88.25L273.25 90.75M270.75 90.75L273.25 88.25" stroke="#0000ff" stroke-width="0.7" fill="none"/><path d="M274.52 86.60H277.02M275.77 85.35V87.85M274.52 85.35L277.02 87.85M274.52 87.85L277.02 85.35" stroke="#0000ff" stroke-width="0.7" fill="none"/><path d="M278.28 80.20H280.78M279.53 78.95V81.45M278.28 78.95L280.78 81.45M278.28 81.45L280.78 78.95" stroke="#0000ff" stroke-width="0.7" fill="none"/><path d="M282.05 77.20H284.55M283.30 75.95V78.45M282.05 75.95L284.55 78.45M282.05 78.45L284.55 75.95" stroke="#0000ff" stroke-width="0.7" fill="none"/><path d="M285.82 73.40H288.32M287.07 72.15V74.65M285.82 72.15L288.32 74.65M285.82 74.65L288.32 72.15" stroke="#0000ff" stroke-width="0.7" fill="none"/><path d="M289.58 70.00H292.08M290.83 68.75V71.25M289.58 68.75L292.08 71.25M289.58 71.25L292.08 68.75" stroke="#0000ff" stroke-width="0.7" fill="none"/><path d="M293.35 67.00H295.85M294.60 65.75V68.25M293.35 65.75L295.85 68.25M293.35 68.25L295.85 65.75" stroke="#0000ff" stroke-width="0.7" fill="none"/><path d="M297.11 64.00H299.61M298.36 62.75V65.25M297.11 62.75L299.61 65.25M297.11 65.25L299.61 62.75" stroke="#0000ff" stroke-width="0.7" fill="none"/><path d="M300.88 61.60H303.38M302.13 60.35V62.85M300.88 60.35L303.38 62.85M300.88 62.85L303.38 60.35" stroke="#0000ff" stroke-width="0.7" fill="none"/><path d="M304.65 59.80H307.15M305.90 58.55V61.05M304.65 58.55L307.15 61.05M304.65 61.05L307.15 58.55" stroke="#0000ff" stroke-width="0.7" fill="none"/><path d="M308.41 58.60H310.91M309.66 57.35V59.85M308.41 57.35L310.91 59.85M308.41 59.85L310.91 57.35" stroke="#0000ff" stroke-width="0.7" fill="none"/><path d="M312.18 56.79H314.68M313.43 55.54V58.04M312.18 55.54L314.68 58.04M312.18 58.04L314.68 55.54" stroke="#0000ff" stroke-width="0.7" fill="none"/><path d="M315.94 54.99H318.44M317.19 53.74V56.24M315.94 53.74L318.44 56.24M315.94 56.24L318.44 53.74" stroke="#0000ff" stroke-width="0.7" fill="none"/><path d="M319.71 53.86H322.21M320.96 52.61V55.11M319.71 52.61L322.21 55.11M319.71 55.11L322.21 52.61" stroke="#0000ff" stroke-width="0.7" fill="none"/><path d="M323.48 52.92H325.98M324.73 51.67V54.17M323.48 51.67L325.98 54.17M323.48 54.17L325.98 51.67" stroke="#0000ff" stroke-width="0.7" fill="none"/><path d="M327.24 51.98H329.74M328.49 50.73V53.23M327.24 50.73L329.74 53.23M327.24 53.23L329.74 50.73" stroke="#0000ff" stroke-width="0.7" fill="none"/><path d="M331.01 51.04H333.51M332.26 49.79V52.29M331.01 49.79L333.51 52.29M331.01 52.29L333.51 49.79" stroke="#0000ff" stroke-width="0.7" fill="none"/><path d="M334.77 50.27H337.27M336.02 49.02V51.52M334.77 49.02L337.27 51.52M334.77 51.52L337.27 49.02" stroke="#0000ff" stroke-width="0.7" fill="none"/><path d="M338.54 49.66H341.04M339.79 48.41V50.91M338.54 48.41L341.04 50.91M338.54 50.91L341.04 48.41" stroke="#0000ff" stroke-width="0.7" fill="none"/><path d="M342.31 49.05H344.81M343.56 47.80V50.30M342.31 47.80L344.81 50.30M342.31 50.30L344.81 47.80" stroke="#0000ff" stroke-width="0.7" fill="none"/><path d="M346.07 48.44H348.57M347.32 47.19V49.69M346.07 47.19L348.57 49.69M346.07 49.69L348.57 47.19" stroke="#0000ff" stroke-width="0.7" fill="none"/><path d="M349.84 47.84H352.34M351.09 46.59V49.09M349.84 46.59L352.34 49.09M349.84 49.09L352.34 46.59" stroke="#0000ff" stroke-width="0.7" fill="none"/><path d="M353.60 47.27H356.10M354.85 46.02V48.52M353.60 46.02L356.10 48.52M353.60 48.52L356.10 46.02" stroke="#0000ff" stroke-width="0.7" fill="none"/><path d="M357.37 46.71H359.87M358.62 45.46V47.96M357.37 45.46L359.87 47.96M357.37 47.96L359.87 45.46" stroke="#0000ff" stroke-width="0.7" fill="none"/><path d="M361.14 46.17H363.64M362.39 44.92V47.42M361.14 44.92L363.64 47.42M361.14 47.42L363.64 44.92" stroke="#0000ff" stroke-width="0.7" fill="none"/><path d="M364.90 45.86H367.40M366.15 44.61V47.11M364.90 44.61L367.40 47.11M364.90 47.11L367.40 44.61" stroke="#0000ff" stroke-width="0.7" fill="none"/><path d="M368.67 45.56H371.17M369.92 44.31V46.81M368.67 44.31L371.17 46.81M368.67 46.81L371.17 44.31" stroke="#0000ff" stroke-width="0.7" fill="none"/><path d="M372.43 45.25H374.93M373.68 44.00V46.50M372.43 44.00L374.93 46.50M372.43 46.50L374.93 44.00" stroke="#0000ff" stroke-width="0.7" fill="none"/><path d="M376.20 44.94H378.70M377.45 43.69V46.19M376.20 43.69L378.70 46.19M376.20 46.19L378.70 43.69" stroke="#0000ff" stroke-width="0.7" fill="none"/><path d="M379.97 44.80H382.47M381.22 43.55V46.05M379.97 43.55L382.47 46.05M379.97 46.05L382.47 43.55" stroke="#0000ff" stroke-width="0.7" fill="none"/><path d="M383.73 44.68H386.23M384.98 43.43V45.93M383.73 43.43L386.23 45.93M383.73 45.93L386.23 43.43" stroke="#0000ff" stroke-width="0.7" fill="none"/><path d="M387.50 44.56H390.00M388.75 43.31V45.81M387.50 43.31L390.00 45.81M387.50 45.81L390.00 43.31" stroke="#0000ff" stroke-width="0.7" fill="none"/><path d="M391.26 44.45H393.76M392.51 43.20V45.70M391.26 43.20L393.76 45.70M391.26 45.70L393.76 43.20" stroke="#0000ff" stroke-width="0.7" fill="none"/><path d="M395.03 44.36H397.53M396.28 43.11V45.61M395.03 43.11L397.53 45.61M395.03 45.61L397.53 43.11" stroke="#0000ff" stroke-width="0.7" fill="none"/><path d="M398.80 44.29H401.30M400.05 43.04V45.54M398.80 43.04L401.30 45.54M398.80 45.54L401.30 43.04" stroke="#0000ff" stroke-width="0.7" fill="none"/><path d="M402.56 44.22H405.06M403.81 42.97V45.47M402.56 42.97L405.06 45.47M402.56 45.47L405.06 42.97" stroke="#0000ff" stroke-width="0.7" fill="none"/><path d="M406.33 44.15H408.83M407.58 42.90V45.40M406.33 42.90L408.83 45.40M406.33 45.40L408.83 42.90" stroke="#0000ff" stroke-width="0.7" fill="none"/><path d="M410.09 44.08H412.59M411.34 42.83V45.33M410.09 42.83L412.59 45.33M410.09 45.33L412.59 42.83" stroke="#0000ff" stroke-width="0.7" fill="none"/><path d="M413.86 44.03H416.36M415.11 42.78V45.28M413.86 42.78L416.36 45.28M413.86 45.28L416.36 42.78" stroke="#0000ff" stroke-width="0.7" fill="none"/><path d="M417.63 43.98H420.13M418.88 42.73V45.23M417.63 42.73L420.13 45.23M417.63 45.23L420.13 42.73" stroke="#0000ff" stroke-width="0.7" fill="none"/><path d="M421.39 43.93H423.89M422.64 42.68V45.18M421.39 42.68L423.89 45.18M421.39 45.18L423.89 42.68" stroke="#0000ff" stroke-width="0.7" fill="none"/><path d="M425.16 43.88H427.66M426.41 42.63V45.13M425.16 42.63L427.66 45.13M425.16 45.13L427.66 42.63" stroke="#0000ff" stroke-width="0.7" fill="none"/><path d="M428.92 43.83H431.42M430.17 42.58V45.08M428.92 42.58L431.42 45.08M428.92 45.08L431.42 42.58" stroke="#0000ff" stroke-width="0.7" fill="none"/><path d="M432.69 43.78H435.19M433.94 42.53V45.03M432.69 42.53L435.19 45.03M432.69 45.03L435.19 42.53" stroke="#0000ff" stroke-width="0.7" fill="none"/><path d="M436.46 43.73H438.96M437.71 42.48V44.98M436.46 42.48L438.96 44.98M436.46 44.98L438.96 42.48" stroke="#0000ff" stroke-width="0.7" fill="none"/><path d="M440.22 43.69H442.72M441.47 42.44V44.94M440.22 42.44L442.72 44.94M440.22 44.94L442.72 42.44" stroke="#0000ff" stroke-width="0.7" fill="none"/><path d="M443.99 43.67H446.49M445.24 42.42V44.92M443.99 42.42L446.49 44.92M443.99 44.92L446.49 42.42" stroke="#0000ff" stroke-width="0.7" fill="none"/><path d="M447.75 43.64H450.25M449.00 42.39V44.89M447.75 42.39L450.25 44.89M447.75 44.89L450.25 42.39" stroke="#0000ff" stroke-width="0.7" fill="none"/><path d="M451.52 43.62H454.02M452.77 42.37V44.87M451.52 42.37L454.02 44.87M451.52 44.87L454.02 42.37" stroke="#0000ff" stroke-width="0.7" fill="none"/><path d="M455.29 43.60H457.79M456.54 42.35V44.85M455.29 42.35L457.79 44.85M455.29 44.85L457.79 42.35" stroke="#0000ff" stroke-width="0.7" fill="none"/><path d="M459.05 43.57H461.55M460.30 42.32V44.82M459.05 42.32L461.55 44.82M459.05 44.82L461.55 42.32" stroke="#0000ff" stroke-width="0.7" fill="none"/><path d="M462.82 43.55H465.32M464.07 42.30V44.80M462.82 42.30L465.32 44.80M462.82 44.80L465.32 42.30" stroke="#0000ff" stroke-width="0.7" fill="none"/><path d="M466.58 43.53H469.08M467.83 42.28V44.78M466.58 42.28L469.08 44.78M466.58 44.78L469.08 42.28" stroke="#0000ff" stroke-width="0.7" fill="none"/><path d="M470.35 43.50H472.85M471.60 42.25V44.75M470.35 42.25L472.85 44.75M470.35 44.75L472.85 42.25" stroke="#0000ff" stroke-width="0.7" fill="none"/></g>
<polyline points="95.00,266.60 98.77,266.40 102.53,266.40 106.30,262.00 110.06,266.40 113.83,264.40 117.60,263.00 121.36,263.00 125.13,263.40 128.89,263.00 132.66,260.00 136.43,258.60 140.19,259.00 143.96,261.00 147.72,257.60 151.49,256.00 155.26,253.60 159.02,252.40 162.79,252.00 166.55,250.00 170.32,249.00 174.09,248.00 177.85,245.00 181.62,243.60 185.38,240.00 189.15,238.00 192.92,233.60 196.68,233.00 200.45,229.50 204.21,226.40 207.98,223.60 211.75,220.60 215.51,217.40 219.28,207.00 223.04,194.40 226.81,181.00 230.58,174.40 234.34,169.00 238.11,162.40 241.87,155.00 245.64,149.00 249.41,143.00 253.17,136.00 256.94,126.40 260.70,119.00 264.47,114.00 268.24,106.00 272.00,96.40 275.77,89.20 279.53,83.80 283.30,78.40 287.07,73.60 290.83,70.00 294.60,66.40 298.36,63.40 302.13,61.00 305.90,59.20 309.66,56.45 313.43,54.74 317.19,53.14 320.96,52.08 324.73,51.16 328.49,50.24 332.26,49.32 336.02,48.50 339.79,47.74 343.56,46.99 347.32,46.39 351.09,46.09 354.85,45.78 358.62,45.47 362.39,45.18 366.15,44.99 369.92,44.80 373.68,44.62 377.45,44.43 381.22,44.30 384.98,44.18 388.75,44.06 392.51,43.95 396.28,43.89 400.05,43.86 403.81,43.84 407.58,43.81 411.34,43.79 415.11,43.76 418.88,43.74 422.64,43.71 426.41,43.69 430.17,43.66 433.94,43.64 437.71,43.61 441.47,43.60 445.24,43.58 449.00,43.57 452.77,43.56 456.54,43.55 460.30,43.54 464.07,43.52 467.83,43.51 471.60,43.50" fill="none" stroke="#ff00ff" stroke-width="0.65" stroke-dasharray="1 0.9"/>
<g><rect x="93.98" y="265.58" width="2.04" height="2.04" stroke="#ff00ff" stroke-width="0.55" fill="none"/><rect x="97.75" y="265.38" width="2.04" height="2.04" stroke="#ff00ff" stroke-width="0.55" fill="none"/><rect x="101.51" y="265.38" width="2.04" height="2.04" stroke="#ff00ff" stroke-width="0.55" fill="none"/><rect x="105.28" y="260.98" width="2.04" height="2.04" stroke="#ff00ff" stroke-width="0.55" fill="none"/><rect x="109.04" y="265.38" width="2.04" height="2.04" stroke="#ff00ff" stroke-width="0.55" fill="none"/><rect x="112.81" y="263.38" width="2.04" height="2.04" stroke="#ff00ff" stroke-width="0.55" fill="none"/><rect x="116.58" y="261.98" width="2.04" height="2.04" stroke="#ff00ff" stroke-width="0.55" fill="none"/><rect x="120.34" y="261.98" width="2.04" height="2.04" stroke="#ff00ff" stroke-width="0.55" fill="none"/><rect x="124.11" y="262.38" width="2.04" height="2.04" stroke="#ff00ff" stroke-width="0.55" fill="none"/><rect x="127.87" y="261.98" width="2.04" height="2.04" stroke="#ff00ff" stroke-width="0.55" fill="none"/><rect x="131.64" y="258.98" width="2.04" height="2.04" stroke="#ff00ff" stroke-width="0.55" fill="none"/><rect x="135.41" y="257.58" width="2.04" height="2.04" stroke="#ff00ff" stroke-width="0.55" fill="none"/><rect x="139.17" y="257.98" width="2.04" height="2.04" stroke="#ff00ff" stroke-width="0.55" fill="none"/><rect x="142.94" y="259.98" width="2.04" height="2.04" stroke="#ff00ff" stroke-width="0.55" fill="none"/><rect x="146.70" y="256.58" width="2.04" height="2.04" stroke="#ff00ff" stroke-width="0.55" fill="none"/><rect x="150.47" y="254.98" width="2.04" height="2.04" stroke="#ff00ff" stroke-width="0.55" fill="none"/><rect x="154.24" y="252.58" width="2.04" height="2.04" stroke="#ff00ff" stroke-width="0.55" fill="none"/><rect x="158.00" y="251.38" width="2.04" height="2.04" stroke="#ff00ff" stroke-width="0.55" fill="none"/><rect x="161.77" y="250.98" width="2.04" height="2.04" stroke="#ff00ff" stroke-width="0.55" fill="none"/><rect x="165.53" y="248.98" width="2.04" height="2.04" stroke="#ff00ff" stroke-width="0.55" fill="none"/><rect x="169.30" y="247.98" width="2.04" height="2.04" stroke="#ff00ff" stroke-width="0.55" fill="none"/><rect x="173.07" y="246.98" width="2.04" height="2.04" stroke="#ff00ff" stroke-width="0.55" fill="none"/><rect x="176.83" y="243.98" width="2.04" height="2.04" stroke="#ff00ff" stroke-width="0.55" fill="none"/><rect x="180.60" y="242.58" width="2.04" height="2.04" stroke="#ff00ff" stroke-width="0.55" fill="none"/><rect x="184.36" y="238.98" width="2.04" height="2.04" stroke="#ff00ff" stroke-width="0.55" fill="none"/><rect x="188.13" y="236.98" width="2.04" height="2.04" stroke="#ff00ff" stroke-width="0.55" fill="none"/><rect x="191.90" y="232.58" width="2.04" height="2.04" stroke="#ff00ff" stroke-width="0.55" fill="none"/><rect x="195.66" y="231.98" width="2.04" height="2.04" stroke="#ff00ff" stroke-width="0.55" fill="none"/><rect x="199.43" y="228.48" width="2.04" height="2.04" stroke="#ff00ff" stroke-width="0.55" fill="none"/><rect x="203.19" y="225.38" width="2.04" height="2.04" stroke="#ff00ff" stroke-width="0.55" fill="none"/><rect x="206.96" y="222.58" width="2.04" height="2.04" stroke="#ff00ff" stroke-width="0.55" fill="none"/><rect x="210.73" y="219.58" width="2.04" height="2.04" stroke="#ff00ff" stroke-width="0.55" fill="none"/><rect x="214.49" y="216.38" width="2.04" height="2.04" stroke="#ff00ff" stroke-width="0.55" fill="none"/><rect x="218.26" y="205.98" width="2.04" height="2.04" stroke="#ff00ff" stroke-width="0.55" fill="none"/><rect x="222.02" y="193.38" width="2.04" height="2.04" stroke="#ff00ff" stroke-width="0.55" fill="none"/><rect x="225.79" y="179.98" width="2.04" height="2.04" stroke="#ff00ff" stroke-width="0.55" fill="none"/><rect x="229.56" y="173.38" width="2.04" height="2.04" stroke="#ff00ff" stroke-width="0.55" fill="none"/><rect x="233.32" y="167.98" width="2.04" height="2.04" stroke="#ff00ff" stroke-width="0.55" fill="none"/><rect x="237.09" y="161.38" width="2.04" height="2.04" stroke="#ff00ff" stroke-width="0.55" fill="none"/><rect x="240.85" y="153.98" width="2.04" height="2.04" stroke="#ff00ff" stroke-width="0.55" fill="none"/><rect x="244.62" y="147.98" width="2.04" height="2.04" stroke="#ff00ff" stroke-width="0.55" fill="none"/><rect x="248.39" y="141.98" width="2.04" height="2.04" stroke="#ff00ff" stroke-width="0.55" fill="none"/><rect x="252.15" y="134.98" width="2.04" height="2.04" stroke="#ff00ff" stroke-width="0.55" fill="none"/><rect x="255.92" y="125.38" width="2.04" height="2.04" stroke="#ff00ff" stroke-width="0.55" fill="none"/><rect x="259.68" y="117.98" width="2.04" height="2.04" stroke="#ff00ff" stroke-width="0.55" fill="none"/><rect x="263.45" y="112.98" width="2.04" height="2.04" stroke="#ff00ff" stroke-width="0.55" fill="none"/><rect x="267.22" y="104.98" width="2.04" height="2.04" stroke="#ff00ff" stroke-width="0.55" fill="none"/><rect x="270.98" y="95.38" width="2.04" height="2.04" stroke="#ff00ff" stroke-width="0.55" fill="none"/><rect x="274.75" y="88.18" width="2.04" height="2.04" stroke="#ff00ff" stroke-width="0.55" fill="none"/><rect x="278.51" y="82.78" width="2.04" height="2.04" stroke="#ff00ff" stroke-width="0.55" fill="none"/><rect x="282.28" y="77.38" width="2.04" height="2.04" stroke="#ff00ff" stroke-width="0.55" fill="none"/><rect x="286.05" y="72.58" width="2.04" height="2.04" stroke="#ff00ff" stroke-width="0.55" fill="none"/><rect x="289.81" y="68.98" width="2.04" height="2.04" stroke="#ff00ff" stroke-width="0.55" fill="none"/><rect x="293.58" y="65.38" width="2.04" height="2.04" stroke="#ff00ff" stroke-width="0.55" fill="none"/><rect x="297.34" y="62.38" width="2.04" height="2.04" stroke="#ff00ff" stroke-width="0.55" fill="none"/><rect x="301.11" y="59.98" width="2.04" height="2.04" stroke="#ff00ff" stroke-width="0.55" fill="none"/><rect x="304.88" y="58.18" width="2.04" height="2.04" stroke="#ff00ff" stroke-width="0.55" fill="none"/><rect x="308.64" y="55.43" width="2.04" height="2.04" stroke="#ff00ff" stroke-width="0.55" fill="none"/><rect x="312.41" y="53.72" width="2.04" height="2.04" stroke="#ff00ff" stroke-width="0.55" fill="none"/><rect x="316.17" y="52.12" width="2.04" height="2.04" stroke="#ff00ff" stroke-width="0.55" fill="none"/><rect x="319.94" y="51.06" width="2.04" height="2.04" stroke="#ff00ff" stroke-width="0.55" fill="none"/><rect x="323.71" y="50.14" width="2.04" height="2.04" stroke="#ff00ff" stroke-width="0.55" fill="none"/><rect x="327.47" y="49.22" width="2.04" height="2.04" stroke="#ff00ff" stroke-width="0.55" fill="none"/><rect x="331.24" y="48.30" width="2.04" height="2.04" stroke="#ff00ff" stroke-width="0.55" fill="none"/><rect x="335.00" y="47.48" width="2.04" height="2.04" stroke="#ff00ff" stroke-width="0.55" fill="none"/><rect x="338.77" y="46.72" width="2.04" height="2.04" stroke="#ff00ff" stroke-width="0.55" fill="none"/><rect x="342.54" y="45.97" width="2.04" height="2.04" stroke="#ff00ff" stroke-width="0.55" fill="none"/><rect x="346.30" y="45.37" width="2.04" height="2.04" stroke="#ff00ff" stroke-width="0.55" fill="none"/><rect x="350.07" y="45.07" width="2.04" height="2.04" stroke="#ff00ff" stroke-width="0.55" fill="none"/><rect x="353.83" y="44.76" width="2.04" height="2.04" stroke="#ff00ff" stroke-width="0.55" fill="none"/><rect x="357.60" y="44.45" width="2.04" height="2.04" stroke="#ff00ff" stroke-width="0.55" fill="none"/><rect x="361.37" y="44.16" width="2.04" height="2.04" stroke="#ff00ff" stroke-width="0.55" fill="none"/><rect x="365.13" y="43.97" width="2.04" height="2.04" stroke="#ff00ff" stroke-width="0.55" fill="none"/><rect x="368.90" y="43.78" width="2.04" height="2.04" stroke="#ff00ff" stroke-width="0.55" fill="none"/><rect x="372.66" y="43.60" width="2.04" height="2.04" stroke="#ff00ff" stroke-width="0.55" fill="none"/><rect x="376.43" y="43.41" width="2.04" height="2.04" stroke="#ff00ff" stroke-width="0.55" fill="none"/><rect x="380.20" y="43.28" width="2.04" height="2.04" stroke="#ff00ff" stroke-width="0.55" fill="none"/><rect x="383.96" y="43.16" width="2.04" height="2.04" stroke="#ff00ff" stroke-width="0.55" fill="none"/><rect x="387.73" y="43.04" width="2.04" height="2.04" stroke="#ff00ff" stroke-width="0.55" fill="none"/><rect x="391.49" y="42.93" width="2.04" height="2.04" stroke="#ff00ff" stroke-width="0.55" fill="none"/><rect x="395.26" y="42.87" width="2.04" height="2.04" stroke="#ff00ff" stroke-width="0.55" fill="none"/><rect x="399.03" y="42.84" width="2.04" height="2.04" stroke="#ff00ff" stroke-width="0.55" fill="none"/><rect x="402.79" y="42.82" width="2.04" height="2.04" stroke="#ff00ff" stroke-width="0.55" fill="none"/><rect x="406.56" y="42.79" width="2.04" height="2.04" stroke="#ff00ff" stroke-width="0.55" fill="none"/><rect x="410.32" y="42.77" width="2.04" height="2.04" stroke="#ff00ff" stroke-width="0.55" fill="none"/><rect x="414.09" y="42.74" width="2.04" height="2.04" stroke="#ff00ff" stroke-width="0.55" fill="none"/><rect x="417.86" y="42.72" width="2.04" height="2.04" stroke="#ff00ff" stroke-width="0.55" fill="none"/><rect x="421.62" y="42.69" width="2.04" height="2.04" stroke="#ff00ff" stroke-width="0.55" fill="none"/><rect x="425.39" y="42.67" width="2.04" height="2.04" stroke="#ff00ff" stroke-width="0.55" fill="none"/><rect x="429.15" y="42.64" width="2.04" height="2.04" stroke="#ff00ff" stroke-width="0.55" fill="none"/><rect x="432.92" y="42.62" width="2.04" height="2.04" stroke="#ff00ff" stroke-width="0.55" fill="none"/><rect x="436.69" y="42.59" width="2.04" height="2.04" stroke="#ff00ff" stroke-width="0.55" fill="none"/><rect x="440.45" y="42.58" width="2.04" height="2.04" stroke="#ff00ff" stroke-width="0.55" fill="none"/><rect x="444.22" y="42.56" width="2.04" height="2.04" stroke="#ff00ff" stroke-width="0.55" fill="none"/><rect x="447.98" y="42.55" width="2.04" height="2.04" stroke="#ff00ff" stroke-width="0.55" fill="none"/><rect x="451.75" y="42.54" width="2.04" height="2.04" stroke="#ff00ff" stroke-width="0.55" fill="none"/><rect x="455.52" y="42.53" width="2.04" height="2.04" stroke="#ff00ff" stroke-width="0.55" fill="none"/><rect x="459.28" y="42.52" width="2.04" height="2.04" stroke="#ff00ff" stroke-width="0.55" fill="none"/><rect x="463.05" y="42.50" width="2.04" height="2.04" stroke="#ff00ff" stroke-width="0.55" fill="none"/><rect x="466.81" y="42.49" width="2.04" height="2.04" stroke="#ff00ff" stroke-width="0.55" fill="none"/><rect x="470.58" y="42.48" width="2.04" height="2.04" stroke="#ff00ff" stroke-width="0.55" fill="none"/></g>
<polyline points="95.00,271.00 98.77,271.00 102.53,270.00 106.30,270.00 110.06,271.00 113.83,271.00 117.60,269.00 121.36,268.60 125.13,269.00 128.89,267.40 132.66,268.00 136.43,269.40 140.19,267.00 143.96,267.00 147.72,267.40 151.49,267.00 155.26,267.00 159.02,266.60 162.79,262.60 166.55,264.00 170.32,263.60 174.09,263.00 177.85,262.60 181.62,260.20 185.38,258.60 189.15,259.60 192.92,253.00 196.68,248.00 200.45,243.60 204.21,242.00 207.98,237.00 211.75,234.40 215.51,228.00 219.28,219.40 223.04,217.40 226.81,208.00 230.58,203.40 234.34,196.40 238.11,190.40 241.87,183.60 245.64,175.20 249.41,167.80 253.17,149.00 256.94,135.00 260.70,120.40 264.47,112.60 268.24,108.60 272.00,103.60 275.77,96.60 279.53,86.80 283.30,80.20 287.07,73.40 290.83,68.20 294.60,65.80 298.36,62.20 302.13,59.80 305.90,55.91 309.66,53.60 313.43,51.94 317.19,50.34 320.96,49.26 324.73,48.32 328.49,47.38 332.26,46.44 336.02,45.81 339.79,45.47 343.56,45.12 347.32,44.83 351.09,44.65 354.85,44.46 358.62,44.27 362.39,44.09 366.15,44.04 369.92,43.98 373.68,43.92 377.45,43.86 381.22,43.80 384.98,43.74 388.75,43.68 392.51,43.62 396.28,43.60 400.05,43.59 403.81,43.59 407.58,43.58 411.34,43.58 415.11,43.57 418.88,43.57 422.64,43.56 426.41,43.56 430.17,43.55 433.94,43.55 437.71,43.54 441.47,43.54 445.24,43.53 449.00,43.53 452.77,43.52 456.54,43.52 460.30,43.51 464.07,43.51 467.83,43.51 471.60,43.50" fill="none" stroke="#00ffff" stroke-width="0.65" stroke-dasharray="3.5 1.3 0.7 1.3"/>
<g><rect x="93.80" y="269.80" width="2.40" height="2.40" fill="#00ffff"/><rect x="97.57" y="269.80" width="2.40" height="2.40" fill="#00ffff"/><rect x="101.33" y="268.80" width="2.40" height="2.40" fill="#00ffff"/><rect x="105.10" y="268.80" width="2.40" height="2.40" fill="#00ffff"/><rect x="108.86" y="269.80" width="2.40" height="2.40" fill="#00ffff"/><rect x="112.63" y="269.80" width="2.40" height="2.40" fill="#00ffff"/><rect x="116.40" y="267.80" width="2.40" height="2.40" fill="#00ffff"/><rect x="120.16" y="267.40" width="2.40" height="2.40" fill="#00ffff"/><rect x="123.93" y="267.80" width="2.40" height="2.40" fill="#00ffff"/><rect x="127.69" y="266.20" width="2.40" height="2.40" fill="#00ffff"/><rect x="131.46" y="266.80" width="2.40" height="2.40" fill="#00ffff"/><rect x="135.23" y="268.20" width="2.40" height="2.40" fill="#00ffff"/><rect x="138.99" y="265.80" width="2.40" height="2.40" fill="#00ffff"/><rect x="142.76" y="265.80" width="2.40" height="2.40" fill="#00ffff"/><rect x="146.52" y="266.20" width="2.40" height="2.40" fill="#00ffff"/><rect x="150.29" y="265.80" width="2.40" height="2.40" fill="#00ffff"/><rect x="154.06" y="265.80" width="2.40" height="2.40" fill="#00ffff"/><rect x="157.82" y="265.40" width="2.40" height="2.40" fill="#00ffff"/><rect x="161.59" y="261.40" width="2.40" height="2.40" fill="#00ffff"/><rect x="165.35" y="262.80" width="2.40" height="2.40" fill="#00ffff"/><rect x="169.12" y="262.40" width="2.40" height="2.40" fill="#00ffff"/><rect x="172.89" y="261.80" width="2.40" height="2.40" fill="#00ffff"/><rect x="176.65" y="261.40" width="2.40" height="2.40" fill="#00ffff"/><rect x="180.42" y="259.00" width="2.40" height="2.40" fill="#00ffff"/><rect x="184.18" y="257.40" width="2.40" height="2.40" fill="#00ffff"/><rect x="187.95" y="258.40" width="2.40" height="2.40" fill="#00ffff"/><rect x="191.72" y="251.80" width="2.40" height="2.40" fill="#00ffff"/><rect x="195.48" y="246.80" width="2.40" height="2.40" fill="#00ffff"/><rect x="199.25" y="242.40" width="2.40" height="2.40" fill="#00ffff"/><rect x="203.01" y="240.80" width="2.40" height="2.40" fill="#00ffff"/><rect x="206.78" y="235.80" width="2.40" height="2.40" fill="#00ffff"/><rect x="210.55" y="233.20" width="2.40" height="2.40" fill="#00ffff"/><rect x="214.31" y="226.80" width="2.40" height="2.40" fill="#00ffff"/><rect x="218.08" y="218.20" width="2.40" height="2.40" fill="#00ffff"/><rect x="221.84" y="216.20" width="2.40" height="2.40" fill="#00ffff"/><rect x="225.61" y="206.80" width="2.40" height="2.40" fill="#00ffff"/><rect x="229.38" y="202.20" width="2.40" height="2.40" fill="#00ffff"/><rect x="233.14" y="195.20" width="2.40" height="2.40" fill="#00ffff"/><rect x="236.91" y="189.20" width="2.40" height="2.40" fill="#00ffff"/><rect x="240.67" y="182.40" width="2.40" height="2.40" fill="#00ffff"/><rect x="244.44" y="174.00" width="2.40" height="2.40" fill="#00ffff"/><rect x="248.21" y="166.60" width="2.40" height="2.40" fill="#00ffff"/><rect x="251.97" y="147.80" width="2.40" height="2.40" fill="#00ffff"/><rect x="255.74" y="133.80" width="2.40" height="2.40" fill="#00ffff"/><rect x="259.50" y="119.20" width="2.40" height="2.40" fill="#00ffff"/><rect x="263.27" y="111.40" width="2.40" height="2.40" fill="#00ffff"/><rect x="267.04" y="107.40" width="2.40" height="2.40" fill="#00ffff"/><rect x="270.80" y="102.40" width="2.40" height="2.40" fill="#00ffff"/><rect x="274.57" y="95.40" width="2.40" height="2.40" fill="#00ffff"/><rect x="278.33" y="85.60" width="2.40" height="2.40" fill="#00ffff"/><rect x="282.10" y="79.00" width="2.40" height="2.40" fill="#00ffff"/><rect x="285.87" y="72.20" width="2.40" height="2.40" fill="#00ffff"/><rect x="289.63" y="67.00" width="2.40" height="2.40" fill="#00ffff"/><rect x="293.40" y="64.60" width="2.40" height="2.40" fill="#00ffff"/><rect x="297.16" y="61.00" width="2.40" height="2.40" fill="#00ffff"/><rect x="300.93" y="58.60" width="2.40" height="2.40" fill="#00ffff"/><rect x="304.70" y="54.71" width="2.40" height="2.40" fill="#00ffff"/><rect x="308.46" y="52.40" width="2.40" height="2.40" fill="#00ffff"/><rect x="312.23" y="50.74" width="2.40" height="2.40" fill="#00ffff"/><rect x="315.99" y="49.14" width="2.40" height="2.40" fill="#00ffff"/><rect x="319.76" y="48.06" width="2.40" height="2.40" fill="#00ffff"/><rect x="323.53" y="47.12" width="2.40" height="2.40" fill="#00ffff"/><rect x="327.29" y="46.18" width="2.40" height="2.40" fill="#00ffff"/><rect x="331.06" y="45.24" width="2.40" height="2.40" fill="#00ffff"/><rect x="334.82" y="44.61" width="2.40" height="2.40" fill="#00ffff"/><rect x="338.59" y="44.27" width="2.40" height="2.40" fill="#00ffff"/><rect x="342.36" y="43.92" width="2.40" height="2.40" fill="#00ffff"/><rect x="346.12" y="43.63" width="2.40" height="2.40" fill="#00ffff"/><rect x="349.89" y="43.45" width="2.40" height="2.40" fill="#00ffff"/><rect x="353.65" y="43.26" width="2.40" height="2.40" fill="#00ffff"/><rect x="357.42" y="43.07" width="2.40" height="2.40" fill="#00ffff"/><rect x="361.19" y="42.89" width="2.40" height="2.40" fill="#00ffff"/><rect x="364.95" y="42.84" width="2.40" height="2.40" fill="#00ffff"/><rect x="368.72" y="42.78" width="2.40" height="2.40" fill="#00ffff"/><rect x="372.48" y="42.72" width="2.40" height="2.40" fill="#00ffff"/><rect x="376.25" y="42.66" width="2.40" height="2.40" fill="#00ffff"/><rect x="380.02" y="42.60" width="2.40" height="2.40" fill="#00ffff"/><rect x="383.78" y="42.54" width="2.40" height="2.40" fill="#00ffff"/><rect x="387.55" y="42.48" width="2.40" height="2.40" fill="#00ffff"/><rect x="391.31" y="42.42" width="2.40" height="2.40" fill="#00ffff"/><rect x="395.08" y="42.40" width="2.40" height="2.40" fill="#00ffff"/><rect x="398.85" y="42.39" width="2.40" height="2.40" fill="#00ffff"/><rect x="402.61" y="42.39" width="2.40" height="2.40" fill="#00ffff"/><rect x="406.38" y="42.38" width="2.40" height="2.40" fill="#00ffff"/><rect x="410.14" y="42.38" width="2.40" height="2.40" fill="#00ffff"/><rect x="413.91" y="42.37" width="2.40" height="2.40" fill="#00ffff"/><rect x="417.68" y="42.37" width="2.40" height="2.40" fill="#00ffff"/><rect x="421.44" y="42.36" width="2.40" height="2.40" fill="#00ffff"/><rect x="425.21" y="42.36" width="2.40" height="2.40" fill="#00ffff"/><rect x="428.97" y="42.35" width="2.40" height="2.40" fill="#00ffff"/><rect x="432.74" y="42.35" width="2.40" height="2.40" fill="#00ffff"/><rect x="436.51" y="42.34" width="2.40" height="2.40" fill="#00ffff"/><rect x="440.27" y="42.34" width="2.40" height="2.40" fill="#00ffff"/><rect x="444.04" y="42.33" width="2.40" height="2.40" fill="#00ffff"/><rect x="447.80" y="42.33" width="2.40" height="2.40" fill="#00ffff"/><rect x="451.57" y="42.32" width="2.40" height="2.40" fill="#00ffff"/><rect x="455.34" y="42.32" width="2.40" height="2.40" fill="#00ffff"/><rect x="459.10" y="42.31" width="2.40" height="2.40" fill="#00ffff"/><rect x="462.87" y="42.31" width="2.40" height="2.40" fill="#00ffff"/><rect x="466.63" y="42.31" width="2.40" height="2.40" fill="#00ffff"/><rect x="470.40" y="42.30" width="2.40" height="2.40" fill="#00ffff"/></g>
<polyline points="95.00,275.40 98.77,276.00 102.53,272.40 106.30,271.00 110.06,272.00 113.83,272.60 117.60,274.00 121.36,274.00 125.13,270.00 128.89,274.40 132.66,272.00 136.43,268.00 140.19,271.00 143.96,274.40 147.72,272.00 151.49,270.00 155.26,273.00 159.02,267.00 162.79,268.00 166.55,268.40 170.32,269.00 174.09,266.60 177.85,267.40 181.62,266.20 185.38,267.40 189.15,267.40 192.92,267.40 196.68,266.00 200.45,264.40 204.21,264.40 207.98,261.60 211.75,262.40 215.51,264.40 219.28,258.00 223.04,254.60 226.81,258.00 230.58,255.60 234.34,250.00 238.11,249.00 241.87,244.00 245.64,234.00 249.41,236.00 253.17,231.20 256.94,219.00 260.70,205.40 264.47,191.00 268.24,181.00 272.00,168.20 275.77,156.00 279.53,143.00 283.30,112.80 287.07,100.80 290.83,93.40 294.60,74.20 298.36,64.00 302.13,59.00 305.90,55.30 309.66,52.40 313.43,50.50 317.19,48.50 320.96,47.64 324.73,46.79 328.49,46.10 332.26,45.48 336.02,45.05 339.79,44.77 343.56,44.48 347.32,44.20 351.09,43.98 354.85,43.90 358.62,43.83 362.39,43.75 366.15,43.68 369.92,43.60 373.68,43.59 377.45,43.59 381.22,43.58 384.98,43.57 388.75,43.56 392.51,43.56 396.28,43.55 400.05,43.54 403.81,43.53 407.58,43.53 411.34,43.52 415.11,43.51 418.88,43.50 422.64,43.50 426.41,43.49 430.17,43.48 433.94,43.47 437.71,43.47 441.47,43.46 445.24,43.45 449.00,43.45 452.77,43.44 456.54,43.43 460.30,43.42 464.07,43.42 467.83,43.41 471.60,43.40" fill="none" stroke="#000000" stroke-width="0.52" stroke-dasharray="1.7 1.2 1.7 2.4"/>
<g><circle cx="95.00" cy="275.40" r="1.17" fill="#000000"/><circle cx="98.77" cy="276.00" r="1.17" fill="#000000"/><circle cx="102.53" cy="272.40" r="1.17" fill="#000000"/><circle cx="106.30" cy="271.00" r="1.17" fill="#000000"/><circle cx="110.06" cy="272.00" r="1.17" fill="#000000"/><circle cx="113.83" cy="272.60" r="1.17" fill="#000000"/><circle cx="117.60" cy="274.00" r="1.17" fill="#000000"/><circle cx="121.36" cy="274.00" r="1.17" fill="#000000"/><circle cx="125.13" cy="270.00" r="1.17" fill="#000000"/><circle cx="128.89" cy="274.40" r="1.17" fill="#000000"/><circle cx="132.66" cy="272.00" r="1.17" fill="#000000"/><circle cx="136.43" cy="268.00" r="1.17" fill="#000000"/><circle cx="140.19" cy="271.00" r="1.17" fill="#000000"/><circle cx="143.96" cy="274.40" r="1.17" fill="#000000"/><circle cx="147.72" cy="272.00" r="1.17" fill="#000000"/><circle cx="151.49" cy="270.00" r="1.17" fill="#000000"/><circle cx="155.26" cy="273.00" r="1.17" fill="#000000"/><circle cx="159.02" cy="267.00" r="1.17" fill="#000000"/><circle cx="162.79" cy="268.00" r="1.17" fill="#000000"/><circle cx="166.55" cy="268.40" r="1.17" fill="#000000"/><circle cx="170.32" cy="269.00" r="1.17" fill="#000000"/><circle cx="174.09" cy="266.60" r="1.17" fill="#000000"/><circle cx="177.85" cy="267.40" r="1.17" fill="#000000"/><circle cx="181.62" cy="266.20" r="1.17" fill="#000000"/><circle cx="185.38" cy="267.40" r="1.17" fill="#000000"/><circle cx="189.15" cy="267.40" r="1.17" fill="#000000"/><circle cx="192.92" cy="267.40" r="1.17" fill="#000000"/><circle cx="196.68" cy="266.00" r="1.17" fill="#000000"/><circle cx="200.45" cy="264.40" r="1.17" fill="#000000"/><circle cx="204.21" cy="264.40" r="1.17" fill="#000000"/><circle cx="207.98" cy="261.60" r="1.17" fill="#000000"/><circle cx="211.75" cy="262.40" r="1.17" fill="#000000"/><circle cx="215.51" cy="264.40" r="1.17" fill="#000000"/><circle cx="219.28" cy="258.00" r="1.17" fill="#000000"/><circle cx="223.04" cy="254.60" r="1.17" fill="#000000"/><circle cx="226.81" cy="258.00" r="1.17" fill="#000000"/><circle cx="230.58" cy="255.60" r="1.17" fill="#000000"/><circle cx="234.34" cy="250.00" r="1.17" fill="#000000"/><circle cx="238.11" cy="249.00" r="1.17" fill="#000000"/><circle cx="241.87" cy="244.00" r="1.17" fill="#000000"/><circle cx="245.64" cy="234.00" r="1.17" fill="#000000"/><circle cx="249.41" cy="236.00" r="1.17" fill="#000000"/><circle cx="253.17" cy="231.20" r="1.17" fill="#000000"/><circle cx="256.94" cy="219.00" r="1.17" fill="#000000"/><circle cx="260.70" cy="205.40" r="1.17" fill="#000000"/><circle cx="264.47" cy="191.00" r="1.17" fill="#000000"/><circle cx="268.24" cy="181.00" r="1.17" fill="#000000"/><circle cx="272.00" cy="168.20" r="1.17" fill="#000000"/><circle cx="275.77" cy="156.00" r="1.17" fill="#000000"/><circle cx="279.53" cy="143.00" r="1.17" fill="#000000"/><circle cx="283.30" cy="112.80" r="1.17" fill="#000000"/><circle cx="287.07" cy="100.80" r="1.17" fill="#000000"/><circle cx="290.83" cy="93.40" r="1.17" fill="#000000"/><circle cx="294.60" cy="74.20" r="1.17" fill="#000000"/><circle cx="298.36" cy="64.00" r="1.17" fill="#000000"/><circle cx="302.13" cy="59.00" r="1.17" fill="#000000"/><circle cx="305.90" cy="55.30" r="1.17" fill="#000000"/><circle cx="309.66" cy="52.40" r="1.17" fill="#000000"/><circle cx="313.43" cy="50.50" r="1.17" fill="#000000"/><circle cx="317.19" cy="48.50" r="1.17" fill="#000000"/><circle cx="320.96" cy="47.64" r="1.17" fill="#000000"/><circle cx="324.73" cy="46.79" r="1.17" fill="#000000"/><circle cx="328.49" cy="46.10" r="1.17" fill="#000000"/><circle cx="332.26" cy="45.48" r="1.17" fill="#000000"/><circle cx="336.02" cy="45.05" r="1.17" fill="#000000"/><circle cx="339.79" cy="44.77" r="1.17" fill="#000000"/><circle cx="343.56" cy="44.48" r="1.17" fill="#000000"/><circle cx="347.32" cy="44.20" r="1.17" fill="#000000"/><circle cx="351.09" cy="43.98" r="1.17" fill="#000000"/><circle cx="354.85" cy="43.90" r="1.17" fill="#000000"/><circle cx="358.62" cy="43.83" r="1.17" fill="#000000"/><circle cx="362.39" cy="43.75" r="1.17" fill="#000000"/><circle cx="366.15" cy="43.68" r="1.17" fill="#000000"/><circle cx="369.92" cy="43.60" r="1.17" fill="#000000"/><circle cx="373.68" cy="43.59" r="1.17" fill="#000000"/><circle cx="377.45" cy="43.59" r="1.17" fill="#000000"/><circle cx="381.22" cy="43.58" r="1.17" fill="#000000"/><circle cx="384.98" cy="43.57" r="1.17" fill="#000000"/><circle cx="388.75" cy="43.56" r="1.17" fill="#000000"/><circle cx="392.51" cy="43.56" r="1.17" fill="#000000"/><circle cx="396.28" cy="43.55" r="1.17" fill="#000000"/><circle cx="400.05" cy="43.54" r="1.17" fill="#000000"/><circle cx="403.81" cy="43.53" r="1.17" fill="#000000"/><circle cx="407.58" cy="43.53" r="1.17" fill="#000000"/><circle cx="411.34" cy="43.52" r="1.17" fill="#000000"/><circle cx="415.11" cy="43.51" r="1.17" fill="#000000"/><circle cx="418.88" cy="43.50" r="1.17" fill="#000000"/><circle cx="422.64" cy="43.50" r="1.17" fill="#000000"/><circle cx="426.41" cy="43.49" r="1.17" fill="#000000"/><circle cx="430.17" cy="43.48" r="1.17" fill="#000000"/><circle cx="433.94" cy="43.47" r="1.17" fill="#000000"/><circle cx="437.71" cy="43.47" r="1.17" fill="#000000"/><circle cx="441.47" cy="43.46" r="1.17" fill="#000000"/><circle cx="445.24" cy="43.45" r="1.17" fill="#000000"/><circle cx="449.00" cy="43.45" r="1.17" fill="#000000"/><circle cx="452.77" cy="43.44" r="1.17" fill="#000000"/><circle cx="456.54" cy="43.43" r="1.17" fill="#000000"/><circle cx="460.30" cy="43.42" r="1.17" fill="#000000"/><circle cx="464.07" cy="43.42" r="1.17" fill="#000000"/><circle cx="467.83" cy="43.41" r="1.17" fill="#000000"/><circle cx="471.60" cy="43.40" r="1.17" fill="#000000"/></g>
<polyline points="95.00,273.40 98.77,273.00 102.53,273.00 106.30,270.60 110.06,277.40 113.83,274.40 117.60,273.00 121.36,268.00 125.13,270.00 128.89,276.40 132.66,271.00 136.43,270.60 140.19,270.00 143.96,271.00 147.72,273.00 151.49,275.40 155.26,273.40 159.02,272.00 162.79,274.00 166.55,272.00 170.32,271.40 174.09,273.00 177.85,273.40 181.62,272.00 185.38,268.50 189.15,267.80 192.92,270.00 196.68,267.00 200.45,268.60 204.21,268.60 207.98,262.00 211.75,267.00 215.51,264.40 219.28,267.00 223.04,263.00 226.81,266.00 230.58,261.00 234.34,254.00 238.11,256.00 241.87,253.00 245.64,255.00 249.41,253.00 253.17,243.00 256.94,244.00 260.70,233.00 264.47,225.00 268.24,214.40 272.00,207.00 275.77,166.50 279.53,150.00 283.30,131.00 287.07,118.20 290.83,99.80 294.60,90.20 298.36,77.20 302.13,65.20 305.90,56.00 309.66,51.50 313.43,49.00 317.19,46.80 320.96,46.00 324.73,45.20 328.49,44.88 332.26,44.55 336.02,44.31 339.79,44.15 343.56,43.98 347.32,43.82 351.09,43.70 354.85,43.68 358.62,43.67 362.39,43.66 366.15,43.65 369.92,43.63 373.68,43.62 377.45,43.61 381.22,43.60 384.98,43.59 388.75,43.57 392.51,43.56 396.28,43.55 400.05,43.54 403.81,43.52 407.58,43.51 411.34,43.50 415.11,43.49 418.88,43.47 422.64,43.46 426.41,43.45 430.17,43.44 433.94,43.42 437.71,43.41 441.47,43.40 445.24,43.39 449.00,43.38 452.77,43.36 456.54,43.35 460.30,43.34 464.07,43.33 467.83,43.31 471.60,43.30" fill="none" stroke="#ff4d00" stroke-width="0.52" stroke-dasharray="1.6 1.2 1.6 2.4"/>
<g><path d="M95.00 271.85L96.30 274.35H93.70Z" fill="#ff4d00"/><path d="M98.77 271.45L100.07 273.95H97.47Z" fill="#ff4d00"/><path d="M102.53 271.45L103.83 273.95H101.23Z" fill="#ff4d00"/><path d="M106.30 269.05L107.60 271.55H105.00Z" fill="#ff4d00"/><path d="M110.06 275.85L111.36 278.35H108.76Z" fill="#ff4d00"/><path d="M113.83 272.85L115.13 275.35H112.53Z" fill="#ff4d00"/><path d="M117.60 271.45L118.90 273.95H116.30Z" fill="#ff4d00"/><path d="M121.36 266.45L122.66 268.95H120.06Z" fill="#ff4d00"/><path d="M125.13 268.45L126.43 270.95H123.83Z" fill="#ff4d00"/><path d="M128.89 274.85L130.19 277.35H127.59Z" fill="#ff4d00"/><path d="M132.66 269.45L133.96 271.95H131.36Z" fill="#ff4d00"/><path d="M136.43 269.05L137.73 271.55H135.13Z" fill="#ff4d00"/><path d="M140.19 268.45L141.49 270.95H138.89Z" fill="#ff4d00"/><path d="M143.96 269.45L145.26 271.95H142.66Z" fill="#ff4d00"/><path d="M147.72 271.45L149.02 273.95H146.42Z" fill="#ff4d00"/><path d="M151.49 273.85L152.79 276.35H150.19Z" fill="#ff4d00"/><path d="M155.26 271.85L156.56 274.35H153.96Z" fill="#ff4d00"/><path d="M159.02 270.45L160.32 272.95H157.72Z" fill="#ff4d00"/><path d="M162.79 272.45L164.09 274.95H161.49Z" fill="#ff4d00"/><path d="M166.55 270.45L167.85 272.95H165.25Z" fill="#ff4d00"/><path d="M170.32 269.85L171.62 272.35H169.02Z" fill="#ff4d00"/><path d="M174.09 271.45L175.39 273.95H172.79Z" fill="#ff4d00"/><path d="M177.85 271.85L179.15 274.35H176.55Z" fill="#ff4d00"/><path d="M181.62 270.45L182.92 272.95H180.32Z" fill="#ff4d00"/><path d="M185.38 266.95L186.68 269.45H184.08Z" fill="#ff4d00"/><path d="M189.15 266.25L190.45 268.75H187.85Z" fill="#ff4d00"/><path d="M192.92 268.45L194.22 270.95H191.62Z" fill="#ff4d00"/><path d="M196.68 265.45L197.98 267.95H195.38Z" fill="#ff4d00"/><path d="M200.45 267.05L201.75 269.55H199.15Z" fill="#ff4d00"/><path d="M204.21 267.05L205.51 269.55H202.91Z" fill="#ff4d00"/><path d="M207.98 260.45L209.28 262.95H206.68Z" fill="#ff4d00"/><path d="M211.75 265.45L213.05 267.95H210.45Z" fill="#ff4d00"/><path d="M215.51 262.85L216.81 265.35H214.21Z" fill="#ff4d00"/><path d="M219.28 265.45L220.58 267.95H217.98Z" fill="#ff4d00"/><path d="M223.04 261.45L224.34 263.95H221.74Z" fill="#ff4d00"/><path d="M226.81 264.45L228.11 266.95H225.51Z" fill="#ff4d00"/><path d="M230.58 259.45L231.88 261.95H229.28Z" fill="#ff4d00"/><path d="M234.34 252.45L235.64 254.95H233.04Z" fill="#ff4d00"/><path d="M238.11 254.45L239.41 256.95H236.81Z" fill="#ff4d00"/><path d="M241.87 251.45L243.17 253.95H240.57Z" fill="#ff4d00"/><path d="M245.64 253.45L246.94 255.95H244.34Z" fill="#ff4d00"/><path d="M249.41 251.45L250.71 253.95H248.11Z" fill="#ff4d00"/><path d="M253.17 241.45L254.47 243.95H251.87Z" fill="#ff4d00"/><path d="M256.94 242.45L258.24 244.95H255.64Z" fill="#ff4d00"/><path d="M260.70 231.45L262.00 233.95H259.40Z" fill="#ff4d00"/><path d="M264.47 223.45L265.77 225.95H263.17Z" fill="#ff4d00"/><path d="M268.24 212.85L269.54 215.35H266.94Z" fill="#ff4d00"/><path d="M272.00 205.45L273.30 207.95H270.70Z" fill="#ff4d00"/><path d="M275.77 164.95L277.07 167.45H274.47Z" fill="#ff4d00"/><path d="M279.53 148.45L280.83 150.95H278.23Z" fill="#ff4d00"/><path d="M283.30 129.45L284.60 131.95H282.00Z" fill="#ff4d00"/><path d="M287.07 116.65L288.37 119.15H285.77Z" fill="#ff4d00"/><path d="M290.83 98.25L292.13 100.75H289.53Z" fill="#ff4d00"/><path d="M294.60 88.65L295.90 91.15H293.30Z" fill="#ff4d00"/><path d="M298.36 75.65L299.66 78.15H297.06Z" fill="#ff4d00"/><path d="M302.13 63.65L303.43 66.15H300.83Z" fill="#ff4d00"/><path d="M305.90 54.45L307.20 56.95H304.60Z" fill="#ff4d00"/><path d="M309.66 49.95L310.96 52.45H308.36Z" fill="#ff4d00"/><path d="M313.43 47.45L314.73 49.95H312.13Z" fill="#ff4d00"/><path d="M317.19 45.25L318.49 47.75H315.89Z" fill="#ff4d00"/><path d="M320.96 44.45L322.26 46.95H319.66Z" fill="#ff4d00"/><path d="M324.73 43.65L326.03 46.15H323.43Z" fill="#ff4d00"/><path d="M328.49 43.33L329.79 45.83H327.19Z" fill="#ff4d00"/><path d="M332.26 43.00L333.56 45.50H330.96Z" fill="#ff4d00"/><path d="M336.02 42.76L337.32 45.26H334.72Z" fill="#ff4d00"/><path d="M339.79 42.60L341.09 45.10H338.49Z" fill="#ff4d00"/><path d="M343.56 42.43L344.86 44.93H342.26Z" fill="#ff4d00"/><path d="M347.32 42.27L348.62 44.77H346.02Z" fill="#ff4d00"/><path d="M351.09 42.15L352.39 44.65H349.79Z" fill="#ff4d00"/><path d="M354.85 42.13L356.15 44.63H353.55Z" fill="#ff4d00"/><path d="M358.62 42.12L359.92 44.62H357.32Z" fill="#ff4d00"/><path d="M362.39 42.11L363.69 44.61H361.09Z" fill="#ff4d00"/><path d="M366.15 42.10L367.45 44.60H364.85Z" fill="#ff4d00"/><path d="M369.92 42.08L371.22 44.58H368.62Z" fill="#ff4d00"/><path d="M373.68 42.07L374.98 44.57H372.38Z" fill="#ff4d00"/><path d="M377.45 42.06L378.75 44.56H376.15Z" fill="#ff4d00"/><path d="M381.22 42.05L382.52 44.55H379.92Z" fill="#ff4d00"/><path d="M384.98 42.04L386.28 44.54H383.68Z" fill="#ff4d00"/><path d="M388.75 42.02L390.05 44.52H387.45Z" fill="#ff4d00"/><path d="M392.51 42.01L393.81 44.51H391.21Z" fill="#ff4d00"/><path d="M396.28 42.00L397.58 44.50H394.98Z" fill="#ff4d00"/><path d="M400.05 41.99L401.35 44.49H398.75Z" fill="#ff4d00"/><path d="M403.81 41.97L405.11 44.47H402.51Z" fill="#ff4d00"/><path d="M407.58 41.96L408.88 44.46H406.28Z" fill="#ff4d00"/><path d="M411.34 41.95L412.64 44.45H410.04Z" fill="#ff4d00"/><path d="M415.11 41.94L416.41 44.44H413.81Z" fill="#ff4d00"/><path d="M418.88 41.92L420.18 44.42H417.58Z" fill="#ff4d00"/><path d="M422.64 41.91L423.94 44.41H421.34Z" fill="#ff4d00"/><path d="M426.41 41.90L427.71 44.40H425.11Z" fill="#ff4d00"/><path d="M430.17 41.89L431.47 44.39H428.87Z" fill="#ff4d00"/><path d="M433.94 41.87L435.24 44.37H432.64Z" fill="#ff4d00"/><path d="M437.71 41.86L439.01 44.36H436.41Z" fill="#ff4d00"/><path d="M441.47 41.85L442.77 44.35H440.17Z" fill="#ff4d00"/><path d="M445.24 41.84L446.54 44.34H443.94Z" fill="#ff4d00"/><path d="M449.00 41.83L450.30 44.33H447.70Z" fill="#ff4d00"/><path d="M452.77 41.81L454.07 44.31H451.47Z" fill="#ff4d00"/><path d="M456.54 41.80L457.84 44.30H455.24Z" fill="#ff4d00"/><path d="M460.30 41.79L461.60 44.29H459.00Z" fill="#ff4d00"/><path d="M464.07 41.78L465.37 44.28H462.77Z" fill="#ff4d00"/><path d="M467.83 41.76L469.13 44.26H466.53Z" fill="#ff4d00"/><path d="M471.60 41.75L472.90 44.25H470.30Z" fill="#ff4d00"/></g>
<rect x="95.0" y="20.0" width="376.6" height="280.0" fill="none" stroke="#000" stroke-width="0.8"/>
<text transform="translate(84.6,305.80) scale(0.955,1)" text-anchor="end" class="t">0.3</text>
<text transform="translate(84.6,270.80) scale(0.955,1)" text-anchor="end" class="t">0.35</text>
<text transform="translate(84.6,235.80) scale(0.955,1)" text-anchor="end" class="t">0.4</text>
<text transform="translate(84.6,200.80) scale(0.955,1)" text-anchor="end" class="t">0.45</text>
<text transform="translate(84.6,165.80) scale(0.955,1)" text-anchor="end" class="t">0.5</text>
<text transform="translate(84.6,130.80) scale(0.955,1)" text-anchor="end" class="t">0.55</text>
<text transform="translate(84.6,95.80) scale(0.955,1)" text-anchor="end" class="t">0.6</text>
<text transform="translate(84.6,60.80) scale(0.955,1)" text-anchor="end" class="t">0.65</text>
<text transform="translate(84.6,25.80) scale(0.955,1)" text-anchor="end" class="t">0.7</text>
<text transform="translate(97.20,322.2) scale(0.955,1)" text-anchor="middle" class="t">1</text>
<text transform="translate(172.52,322.2) scale(0.955,1)" text-anchor="middle" class="t">1.2</text>
<text transform="translate(247.84,322.2) scale(0.955,1)" text-anchor="middle" class="t">1.4</text>
<text transform="translate(323.16,322.2) scale(0.955,1)" text-anchor="middle" class="t">1.6</text>
<text transform="translate(398.48,322.2) scale(0.955,1)" text-anchor="middle" class="t">1.8</text>
<text transform="translate(473.80,322.2) scale(0.955,1)" text-anchor="middle" class="t">2</text>
<path d="M95.0 265.0h4M471.6 265.0h-4M95.0 230.0h4M471.6 230.0h-4M95.0 195.0h4M471.6 195.0h-4M95.0 160.0h4M471.6 160.0h-4M95.0 125.0h4M471.6 125.0h-4M95.0 90.0h4M471.6 90.0h-4M95.0 55.0h4M471.6 55.0h-4M170.32 300.0v-4M170.32 20.0v4M245.64 300.0v-4M245.64 20.0v4M320.96 300.0v-4M320.96 20.0v4M396.28 300.0v-4M396.28 20.0v4" stroke="#000" stroke-width="0.8" fill="none"/>
<path d="M95.0 300.0h4M471.6 300.0h-4M95.0 20.0h4M471.6 20.0h-4M95.00 300.0v-4M95.00 20.0v4M471.60 300.0v-4M471.60 20.0v4" stroke="#000" stroke-width="0.8" stroke-opacity="0.35" fill="none"/>
<text transform="translate(283.8,347.4) scale(0.975,1)" text-anchor="middle" style="font-size:20.2px">K</text>
<g transform="translate(22.1,179.9) rotate(-90) scale(0.91,1)"><text x="0" y="0" style="font-size:21px">B</text></g>
<path d="M15.2 160.9L27 155.7V166.3ZM17.76 161.41L26 165.18V157.78Z" fill="#000" fill-rule="evenodd"/>
<g transform="translate(13.5,155.4) rotate(-90) scale(0.925,1)"><text x="0" y="0" style="font-size:13.9px">(3)</text></g>
<text transform="translate(419.4,193.50) scale(0.965,1)" text-anchor="end" fill="#ff0000" style="font-size:17.7px">N=200</text>
<path d="M429.6 187.50H451.6" stroke="#ff0000" stroke-width="0.65" fill="none"/>
<path d="M439.25 187.50H441.75M440.50 186.25V188.75" stroke="#ff0000" stroke-width="0.7" fill="none"/>
<text transform="translate(419.4,210.00) scale(0.965,1)" text-anchor="end" fill="#00ff00" style="font-size:17.7px">400</text>
<path d="M429.6 204.00H451.6" stroke="#00ff00" stroke-width="0.65" fill="none" stroke-dasharray="2.7 1.45"/>
<path d="M439.25 202.75L441.75 205.25M439.25 205.25L441.75 202.75" stroke="#00ff00" stroke-width="0.7" fill="none"/>
<text transform="translate(419.4,226.45) scale(0.965,1)" text-anchor="end" fill="#0000ff" style="font-size:17.7px">800</text>
<path d="M429.6 220.45H451.6" stroke="#0000ff" stroke-width="0.65" fill="none" stroke-dasharray="1.7 1.8"/>
<path d="M439.25 220.45H441.75M440.50 219.20V221.70M439.25 219.20L441.75 221.70M439.25 221.70L441.75 219.20" stroke="#0000ff" stroke-width="0.7" fill="none"/>
<text transform="translate(419.4,243.50) scale(0.965,1)" text-anchor="end" fill="#ff00ff" style="font-size:17.7px">1600</text>
<path d="M429.6 237.50H451.6" stroke="#ff00ff" stroke-width="0.65" fill="none" stroke-dasharray="1 0.9"/>
<rect x="439.48" y="236.48" width="2.04" height="2.04" stroke="#ff00ff" stroke-width="0.55" fill="none"/>
<text transform="translate(419.4,260.00) scale(0.965,1)" text-anchor="end" fill="#00ffff" style="font-size:17.7px">3200</text>
<path d="M429.6 254.00H451.6" stroke="#00ffff" stroke-width="0.65" fill="none" stroke-dasharray="3.5 1.3 0.7 1.3"/>
<rect x="439.30" y="252.80" width="2.40" height="2.40" fill="#00ffff"/>
<text transform="translate(419.4,276.50) scale(0.965,1)" text-anchor="end" fill="#000000" style="font-size:17.7px">6400</text>
<path d="M429.6 270.50H451.6" stroke="#000000" stroke-width="0.52" fill="none" stroke-dasharray="1.7 1.2 1.7 2.4"/>
<circle cx="440.50" cy="270.50" r="1.17" fill="#000000"/>
<text transform="translate(419.4,293.50) scale(0.965,1)" text-anchor="end" fill="#ff4d00" style="font-size:17.7px">12800</text>
<path d="M429.6 287.50H451.6" stroke="#ff4d00" stroke-width="0.52" fill="none" stroke-dasharray="1.6 1.2 1.6 2.4"/>
<path d="M440.50 285.95L441.80 288.45H439.20Z" fill="#ff4d00"/>
</svg>
</body></html>
